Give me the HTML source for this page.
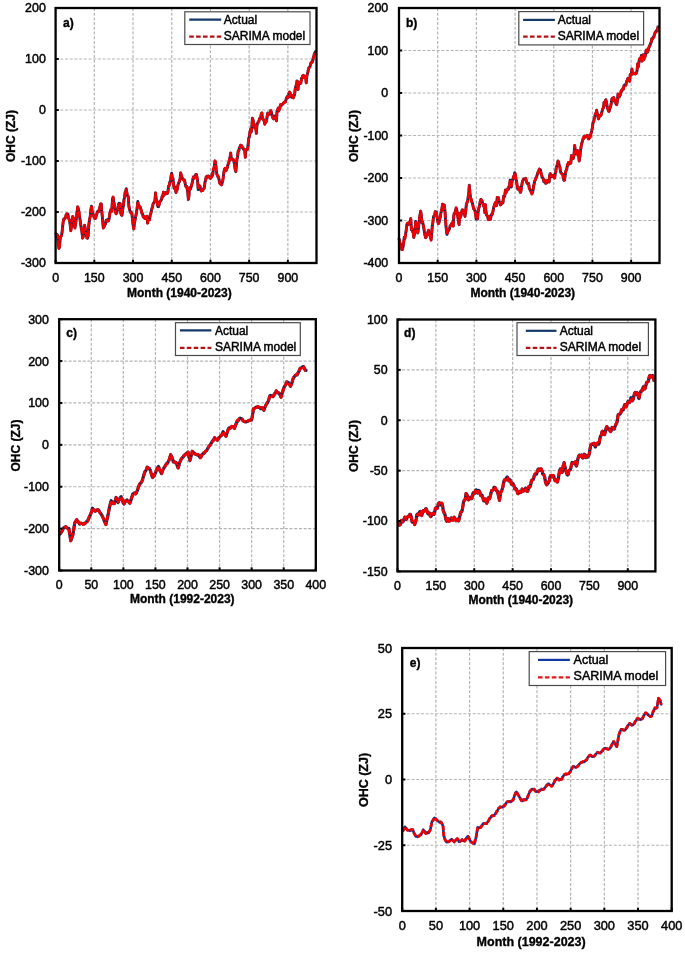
<!DOCTYPE html>
<html><head><meta charset="utf-8"><title>OHC SARIMA</title>
<style>
html,body{margin:0;padding:0;background:#fff;}
body{width:685px;height:954px;overflow:hidden;}
svg{display:block;filter:blur(0.4px);}
text{font-family:"Liberation Sans", sans-serif;fill:#000;}
.gr{stroke:#b4b4b4;stroke-width:1.2;stroke-dasharray:3 1.7;fill:none;}
.bl{stroke:#0d2660;stroke-width:3.0;fill:none;stroke-linejoin:round;stroke-linecap:round;}
.rd{stroke:#f00000;stroke-width:2.6;fill:none;stroke-dasharray:4 1.6;stroke-linejoin:round;}
.bla,.blb{stroke-width:2.9;}
.rda,.rdb{stroke-width:2.6;stroke-dasharray:7 1;}
.blc,.bld{stroke-width:3.2;}
.rdc,.rdd{stroke-width:2.8;stroke-dasharray:6 1.2;}
.ble{stroke-width:2.6;stroke:#0c3296;}
.rde{stroke-width:2.8;stroke-dasharray:4.2 1.8;}
.tk{stroke:#000;stroke-width:2;}
.fr{stroke:#000;stroke-width:2.3;fill:none;}
.lg{stroke:#4a4a4a;stroke-width:1.2;fill:#fff;}
.lbl{stroke:#14386a;stroke-width:2.2;}
.lrd{stroke:#b01416;stroke-width:2.2;stroke-dasharray:4.6 2.3;}
.lble{stroke:#1238a6;}
.lrde{stroke:#e01818;}
.yl,.xl,.lt{stroke:#000;stroke-width:0.45px;}
.yl{text-anchor:end;}
.xl{text-anchor:middle;}
.lt{font-size:12px;}
.pl{font-size:12px;font-weight:bold;}
.pln{}
.tt{font-weight:bold;}
.tt,.pl{stroke:#000;stroke-width:0.35px;}
.yt{text-anchor:middle;}
</style></head>
<body><svg width="685" height="954" viewBox="0 0 685 954">
<rect width="685" height="954" fill="#fff"/>
<g><line x1="55.6" y1="59" x2="316.5" y2="59" class="gr"/>
<line x1="55.6" y1="110" x2="316.5" y2="110" class="gr"/>
<line x1="55.6" y1="161" x2="316.5" y2="161" class="gr"/>
<line x1="55.6" y1="212" x2="316.5" y2="212" class="gr"/>
<line x1="94.31" y1="8" x2="94.31" y2="263" class="gr"/>
<line x1="133.02" y1="8" x2="133.02" y2="263" class="gr"/>
<line x1="171.73" y1="8" x2="171.73" y2="263" class="gr"/>
<line x1="210.44" y1="8" x2="210.44" y2="263" class="gr"/>
<line x1="249.15" y1="8" x2="249.15" y2="263" class="gr"/>
<line x1="287.86" y1="8" x2="287.86" y2="263" class="gr"/>
<path d="M56,233.81 L56.58,235 L57.16,234.51 L57.74,236.04 L58.32,243.62 L58.9,248.37 L59.5,246.9 L60.1,239.24 L60.7,236.67 L61.3,236.03 L61.9,233.71 L62.57,227.01 L63.23,221.67 L63.9,218.92 L64.55,219.06 L65.2,218.03 L65.85,215.87 L66.5,214.21 L67.15,213.85 L67.8,213.84 L68.4,217.49 L69,219.21 L69.6,220.77 L70.2,224.74 L70.8,230.59 L71.43,226.62 L72.07,220.54 L72.7,216.68 L73.28,219.32 L73.85,218.15 L74.42,226.78 L75,227.84 L75.54,224.02 L76.08,220.23 L76.62,215.77 L77.16,211.23 L77.7,206.85 L78.28,208.65 L78.86,211.43 L79.44,215.91 L80.02,219.39 L80.6,223.81 L81.27,228.56 L81.93,231.74 L82.6,237.97 L83.27,236.58 L83.93,230.45 L84.6,225.4 L85.18,228.32 L85.76,230.16 L86.34,234.36 L86.92,237.99 L87.5,238.23 L88.17,235.75 L88.83,224.98 L89.5,219.5 L90.17,216.9 L90.83,209.96 L91.5,206.2 L92.08,210.42 L92.66,213.57 L93.24,214.36 L93.82,216.44 L94.4,218.06 L95,216.5 L95.6,218.44 L96.2,215.6 L96.8,214.37 L97.4,211.85 L98.05,211.01 L98.7,211.57 L99.35,209.18 L100,206.49 L100.65,204.11 L101.3,203.94 L101.97,213.59 L102.63,219.92 L103.3,227.91 L103.88,226.53 L104.46,226.29 L105.04,224.3 L105.62,223.72 L106.2,220.29 L106.8,220.59 L107.4,219.74 L108,220.7 L108.6,220.73 L109.2,218.13 L109.85,213.19 L110.5,211.33 L111.15,208.86 L111.8,211.11 L112.45,199.23 L113.1,197.25 L113.7,201.35 L114.3,204.45 L114.9,208.06 L115.5,212 L116.1,213.68 L116.68,212.85 L117.26,210.09 L117.84,209.65 L118.42,204.46 L119,203.28 L119.6,204.94 L120.2,203.47 L120.8,213.39 L121.4,215.13 L122,215.31 L122.67,209.85 L123.33,205.87 L124,199.8 L124.58,197.08 L125.15,192.16 L125.72,190.54 L126.3,188.7 L126.95,193.29 L127.6,196.09 L128.25,196.77 L128.9,206.37 L129.5,209.29 L130.1,211.17 L130.7,212.52 L131.3,212.56 L131.9,213.64 L132.53,219.98 L133.17,225.71 L133.8,228.66 L134.47,223.16 L135.13,219.45 L135.8,215.71 L136.47,212.85 L137.13,207.57 L137.8,201.54 L138.38,205.11 L138.96,205.4 L139.54,207.36 L140.12,207.05 L140.7,208.44 L141.3,210.97 L141.9,213.26 L142.5,213.85 L143.1,216.54 L143.7,217.09 L144.26,216.36 L144.81,218.48 L145.37,218.53 L145.93,218.2 L146.49,217.36 L147.04,216.38 L147.6,223.08 L148.27,219.79 L148.93,219.95 L149.6,219.66 L150.27,214.58 L150.93,213.32 L151.6,209.6 L152.16,208.12 L152.71,206.01 L153.27,203.28 L153.83,202.57 L154.39,201.82 L154.94,200.55 L155.5,192.83 L156.1,198.78 L156.7,200.5 L157.3,204.13 L157.9,206.55 L158.5,206.74 L159.11,204.53 L159.72,201.8 L160.34,201.03 L160.95,200.65 L161.56,199.36 L162.18,195.89 L162.79,196.83 L163.4,192.25 L163.96,195.32 L164.51,193.21 L165.07,193.14 L165.63,192.58 L166.19,193.72 L166.74,193.38 L167.3,193.52 L167.93,191.48 L168.56,186.05 L169.19,185.75 L169.81,181.95 L170.44,181.69 L171.07,176.05 L171.7,173.24 L172.32,178.31 L172.95,178.47 L173.57,184.89 L174.2,188.3 L174.8,187.04 L175.4,189.05 L176,192.63 L176.6,190.14 L177.2,189.79 L177.78,185.8 L178.37,183.41 L178.95,182.45 L179.53,181.07 L180.12,178.68 L180.7,173.02 L181.31,175.31 L181.93,177.31 L182.54,178.62 L183.16,179.57 L183.77,179.95 L184.39,179.93 L185,182.39 L185.56,185.76 L186.11,186.78 L186.67,186.4 L187.23,189.52 L187.79,192.26 L188.34,199.57 L188.9,196.4 L189.47,188 L190.04,189.27 L190.61,188.6 L191.19,186.73 L191.76,184.28 L192.33,182.31 L192.9,179.03 L193.48,177.02 L194.06,178.22 L194.64,176.72 L195.22,176.58 L195.8,174.38 L196.4,174.45 L197,177.41 L197.6,181.01 L198.2,189.67 L198.8,185.13 L199.45,185.92 L200.1,186.57 L200.75,189.93 L201.4,190.88 L202.05,189.8 L202.7,190.33 L203.27,188.95 L203.84,188.95 L204.41,187.02 L204.99,182.07 L205.56,180.37 L206.13,177.01 L206.7,176.32 L207.31,176.27 L207.92,177.1 L208.54,175.94 L209.15,177.11 L209.76,176.95 L210.38,178.22 L210.99,177.51 L211.6,177.09 L212.17,173.96 L212.73,175.23 L213.3,169.29 L213.87,168.61 L214.43,165.05 L215,161.15 L215.62,163.14 L216.25,169.42 L216.88,174.41 L217.5,175.65 L218.07,177.35 L218.64,177.16 L219.21,180.62 L219.79,183.29 L220.36,183.26 L220.93,184.5 L221.5,184.95 L222.08,183.19 L222.66,181.05 L223.24,177.43 L223.82,172.71 L224.4,169.5 L225,168.51 L225.6,170.28 L226.2,170.21 L226.8,168.6 L227.4,167.32 L228.06,164.31 L228.72,163.02 L229.38,160.12 L230.04,157.01 L230.7,152.98 L231.35,159.11 L232,158.69 L232.65,158.89 L233.3,159.7 L233.93,161.36 L234.55,165.13 L235.18,169.38 L235.8,171.7 L236.4,165.03 L237,158.81 L237.6,156.25 L238.2,151.07 L238.8,150.74 L239.4,147.71 L240,146.89 L240.6,145.36 L241.2,145.11 L241.78,145.93 L242.36,147.97 L242.94,147.89 L243.52,149.36 L244.1,149.8 L244.7,150.2 L245.3,157.23 L245.9,149.91 L246.5,149.4 L247.1,149.65 L247.68,148.89 L248.26,143.25 L248.84,137.96 L249.42,136.37 L250,131.96 L250.6,129.38 L251.2,132.07 L251.8,127.58 L252.4,118.15 L253.05,120.33 L253.7,124.29 L254.35,127.42 L255,127.88 L255.65,125.23 L256.3,133.3 L256.95,125.27 L257.6,123.27 L258.25,122.01 L258.9,121.04 L259.5,118.68 L260.1,118.43 L260.7,117.62 L261.3,113.57 L261.9,113.1 L262.48,118.72 L263.06,119.04 L263.64,119.79 L264.22,121.19 L264.8,124.07 L265.4,122.27 L266,122.05 L266.6,120.88 L267.2,115.81 L267.8,112.92 L268.38,114.45 L268.96,114.47 L269.54,114.2 L270.12,112.76 L270.7,110.7 L271.3,112.01 L271.9,114.3 L272.5,117.21 L273.1,117.91 L273.7,118.91 L274.26,117.49 L274.81,116.07 L275.37,115.8 L275.93,115.31 L276.49,120.76 L277.04,110.84 L277.6,110.51 L278.17,108.19 L278.74,110.8 L279.31,109.55 L279.89,107.93 L280.46,104.87 L281.03,104.54 L281.6,105.38 L282.25,104.23 L282.9,104.08 L283.55,102.76 L284.2,102.44 L284.85,101.9 L285.5,101.94 L286.07,99.47 L286.64,97.7 L287.21,96.52 L287.79,96.72 L288.36,97.47 L288.93,93.38 L289.5,92.14 L290.15,92.9 L290.8,96.22 L291.45,97.17 L292.1,95.63 L292.75,95.69 L293.4,97.76 L294,95.76 L294.6,94.74 L295.2,89.07 L295.8,86.25 L296.4,85.27 L296.96,80.95 L297.51,86.48 L298.07,89.45 L298.63,82.31 L299.19,83.87 L299.74,82.75 L300.3,83.57 L300.9,83.13 L301.5,78.56 L302.1,78.18 L302.7,75.78 L303.3,75.26 L303.88,75.78 L304.46,77.43 L305.04,77.02 L305.62,76.98 L306.2,82.88 L306.8,76.16 L307.4,73.92 L308,71.35 L308.6,68.23 L309.2,67.78 L309.78,66.96 L310.36,65.16 L310.94,63 L311.52,62.83 L312.1,61.38 L312.67,61.46 L313.23,57.86 L313.8,56.11 L314.37,53.68 L314.93,52.6 L315.5,51.5" class="bl bla"/>
<path d="M56,233.32 L56.58,235.05 L57.16,234.65 L57.74,236.45 L58.32,243.21 L58.9,248.49 L59.5,246.78 L60.1,239.25 L60.7,236.32 L61.3,235.82 L61.9,233.73 L62.57,227.43 L63.23,221.28 L63.9,218.91 L64.55,219.37 L65.2,218.5 L65.85,215.56 L66.5,213.84 L67.15,214.3 L67.8,214.31 L68.4,217.48 L69,218.76 L69.6,221.19 L70.2,224.63 L70.8,231 L71.43,226.74 L72.07,220.87 L72.7,216.34 L73.28,219.61 L73.85,217.87 L74.42,226.69 L75,228.18 L75.54,224.35 L76.08,219.91 L76.62,215.49 L77.16,211.13 L77.7,206.87 L78.28,208.53 L78.86,211.06 L79.44,215.65 L80.02,219.61 L80.6,224.21 L81.27,228.1 L81.93,231.8 L82.6,238.22 L83.27,236.12 L83.93,230.79 L84.6,225.02 L85.18,228.42 L85.76,230.21 L86.34,234.49 L86.92,237.79 L87.5,238.15 L88.17,235.84 L88.83,224.91 L89.5,219.66 L90.17,216.85 L90.83,209.9 L91.5,205.72 L92.08,210.53 L92.66,213.56 L93.24,214.1 L93.82,216.7 L94.4,218.34 L95,216.46 L95.6,218.12 L96.2,215.57 L96.8,213.98 L97.4,211.48 L98.05,210.94 L98.7,211.16 L99.35,209.12 L100,206.51 L100.65,203.65 L101.3,204.07 L101.97,213.17 L102.63,220.15 L103.3,228.19 L103.88,226.54 L104.46,225.84 L105.04,224.3 L105.62,223.6 L106.2,220.74 L106.8,220.22 L107.4,220.1 L108,221.2 L108.6,220.96 L109.2,218.45 L109.85,212.89 L110.5,211.82 L111.15,208.85 L111.8,211.57 L112.45,199.64 L113.1,196.91 L113.7,201.64 L114.3,204.88 L114.9,207.63 L115.5,211.85 L116.1,213.93 L116.68,212.5 L117.26,210.49 L117.84,209.42 L118.42,204.78 L119,202.93 L119.6,204.94 L120.2,203.89 L120.8,213.1 L121.4,214.89 L122,215.31 L122.67,209.67 L123.33,205.41 L124,199.48 L124.58,196.74 L125.15,192.6 L125.72,190.72 L126.3,189.1 L126.95,192.96 L127.6,196.37 L128.25,196.39 L128.9,206.4 L129.5,209.43 L130.1,211.03 L130.7,212.89 L131.3,212.62 L131.9,213.72 L132.53,220.36 L133.17,225.31 L133.8,229.15 L134.47,223.29 L135.13,219.35 L135.8,216.01 L136.47,212.62 L137.13,208.06 L137.8,201.61 L138.38,204.97 L138.96,205.66 L139.54,207.3 L140.12,206.73 L140.7,208.68 L141.3,210.52 L141.9,213.58 L142.5,213.6 L143.1,216.68 L143.7,217.57 L144.26,216.45 L144.81,218.64 L145.37,218.34 L145.93,217.7 L146.49,216.89 L147.04,216.03 L147.6,223.2 L148.27,219.72 L148.93,219.96 L149.6,220.05 L150.27,214.21 L150.93,213.04 L151.6,209.76 L152.16,207.64 L152.71,205.51 L153.27,203.13 L153.83,202.17 L154.39,201.68 L154.94,200.28 L155.5,192.92 L156.1,198.87 L156.7,200.2 L157.3,204.25 L157.9,206.52 L158.5,206.37 L159.11,204.97 L159.72,201.54 L160.34,200.68 L160.95,200.24 L161.56,199.5 L162.18,196.26 L162.79,197.11 L163.4,192.15 L163.96,195.08 L164.51,192.72 L165.07,193.28 L165.63,192.64 L166.19,193.57 L166.74,193.53 L167.3,193.46 L167.93,191.92 L168.56,186.28 L169.19,185.5 L169.81,182.35 L170.44,181.24 L171.07,176.09 L171.7,173.15 L172.32,178.04 L172.95,178.03 L173.57,185.17 L174.2,187.81 L174.8,187.09 L175.4,189.49 L176,192.27 L176.6,189.84 L177.2,189.9 L177.78,185.81 L178.37,183.55 L178.95,182.76 L179.53,180.75 L180.12,178.49 L180.7,172.82 L181.31,174.86 L181.93,177.7 L182.54,178.91 L183.16,179.78 L183.77,179.46 L184.39,180.27 L185,182.63 L185.56,185.73 L186.11,187.02 L186.67,186.36 L187.23,189.24 L187.79,191.87 L188.34,199.3 L188.9,195.94 L189.47,187.84 L190.04,189.52 L190.61,188.79 L191.19,187.08 L191.76,184.49 L192.33,182.08 L192.9,179.09 L193.48,176.95 L194.06,178.51 L194.64,176.74 L195.22,176.34 L195.8,174.52 L196.4,174.91 L197,177.13 L197.6,181.39 L198.2,189.19 L198.8,184.89 L199.45,185.66 L200.1,186.81 L200.75,190.38 L201.4,191.13 L202.05,189.63 L202.7,190.71 L203.27,188.77 L203.84,188.69 L204.41,187.43 L204.99,182.2 L205.56,180.56 L206.13,177.17 L206.7,176.8 L207.31,176.24 L207.92,177.44 L208.54,176.14 L209.15,177.47 L209.76,176.89 L210.38,178.45 L210.99,177.58 L211.6,176.9 L212.17,173.67 L212.73,175.35 L213.3,168.86 L213.87,169.02 L214.43,164.69 L215,160.68 L215.62,162.75 L216.25,169.84 L216.88,174.25 L217.5,175.29 L218.07,176.88 L218.64,176.7 L219.21,180.82 L219.79,183.42 L220.36,183.46 L220.93,184.74 L221.5,184.51 L222.08,183.28 L222.66,180.91 L223.24,177.75 L223.82,173.03 L224.4,169.89 L225,168.07 L225.6,170.65 L226.2,170.62 L226.8,169.04 L227.4,166.93 L228.06,164.01 L228.72,162.63 L229.38,159.65 L230.04,157.35 L230.7,153.3 L231.35,159.24 L232,159.02 L232.65,159.03 L233.3,159.49 L233.93,160.96 L234.55,164.72 L235.18,169.64 L235.8,171.4 L236.4,164.85 L237,158.74 L237.6,155.77 L238.2,150.83 L238.8,150.52 L239.4,147.93 L240,146.76 L240.6,145.18 L241.2,145.57 L241.78,145.93 L242.36,148.32 L242.94,148.01 L243.52,148.89 L244.1,149.72 L244.7,150.14 L245.3,157.5 L245.9,149.76 L246.5,149.61 L247.1,149.68 L247.68,148.6 L248.26,143.62 L248.84,137.55 L249.42,136.69 L250,131.64 L250.6,128.89 L251.2,131.77 L251.8,127.84 L252.4,118.63 L253.05,119.83 L253.7,124.28 L254.35,127.41 L255,128.18 L255.65,124.92 L256.3,133.29 L256.95,125.12 L257.6,123.6 L258.25,121.77 L258.9,121.48 L259.5,118.46 L260.1,118.15 L260.7,117.82 L261.3,113.57 L261.9,112.71 L262.48,118.86 L263.06,118.62 L263.64,120.07 L264.22,121.39 L264.8,124.35 L265.4,122.4 L266,121.91 L266.6,120.78 L267.2,115.71 L267.8,113.31 L268.38,114.03 L268.96,114.86 L269.54,113.72 L270.12,112.47 L270.7,110.46 L271.3,112.42 L271.9,114.31 L272.5,117.09 L273.1,118.3 L273.7,118.65 L274.26,117.45 L274.81,116.1 L275.37,116.05 L275.93,115.56 L276.49,120.91 L277.04,110.68 L277.6,110.34 L278.17,107.84 L278.74,111.14 L279.31,109.71 L279.89,108.17 L280.46,104.54 L281.03,104.48 L281.6,105.65 L282.25,104.31 L282.9,103.7 L283.55,102.73 L284.2,102.82 L284.85,101.64 L285.5,101.63 L286.07,99.27 L286.64,97.9 L287.21,96.87 L287.79,96.38 L288.36,97.12 L288.93,93.13 L289.5,91.96 L290.15,92.92 L290.8,95.88 L291.45,96.99 L292.1,95.32 L292.75,96.17 L293.4,97.99 L294,95.36 L294.6,95.21 L295.2,88.67 L295.8,86.14 L296.4,85.75 L296.96,81.24 L297.51,86.71 L298.07,89.38 L298.63,82 L299.19,84.01 L299.74,82.35 L300.3,83.27 L300.9,83.01 L301.5,78.1 L302.1,78.07 L302.7,76.07 L303.3,75.45 L303.88,75.78 L304.46,77.56 L305.04,76.98 L305.62,76.62 L306.2,82.99 L306.8,76.06 L307.4,74.16 L308,71.76 L308.6,68.16 L309.2,67.86 L309.78,67.21 L310.36,65.08 L310.94,62.73 L311.52,63.06 L312.1,61.76 L312.67,61.74 L313.23,58.06 L313.8,56.46 L314.37,53.86 L314.93,52.74 L315.5,51.45" class="rd rda"/>
<line x1="55.6" y1="8" x2="58.8" y2="8" class="tk"/>
<text x="45.8" y="12.44" class="yl" style="font-size:12.4px">200</text>
<line x1="55.6" y1="59" x2="58.8" y2="59" class="tk"/>
<text x="45.8" y="63.44" class="yl" style="font-size:12.4px">100</text>
<line x1="55.6" y1="110" x2="58.8" y2="110" class="tk"/>
<text x="45.8" y="114.44" class="yl" style="font-size:12.4px">0</text>
<line x1="55.6" y1="161" x2="58.8" y2="161" class="tk"/>
<text x="45.8" y="165.44" class="yl" style="font-size:12.4px">-100</text>
<line x1="55.6" y1="212" x2="58.8" y2="212" class="tk"/>
<text x="45.8" y="216.44" class="yl" style="font-size:12.4px">-200</text>
<line x1="55.6" y1="263" x2="58.8" y2="263" class="tk"/>
<text x="45.8" y="267.44" class="yl" style="font-size:12.4px">-300</text>
<line x1="55.6" y1="263" x2="55.6" y2="259.8" class="tk"/>
<text x="55.6" y="282.3" class="xl" style="font-size:12.4px">0</text>
<line x1="94.31" y1="263" x2="94.31" y2="259.8" class="tk"/>
<text x="94.31" y="282.3" class="xl" style="font-size:12.4px">150</text>
<line x1="133.02" y1="263" x2="133.02" y2="259.8" class="tk"/>
<text x="133.02" y="282.3" class="xl" style="font-size:12.4px">300</text>
<line x1="171.73" y1="263" x2="171.73" y2="259.8" class="tk"/>
<text x="171.73" y="282.3" class="xl" style="font-size:12.4px">450</text>
<line x1="210.44" y1="263" x2="210.44" y2="259.8" class="tk"/>
<text x="210.44" y="282.3" class="xl" style="font-size:12.4px">600</text>
<line x1="249.15" y1="263" x2="249.15" y2="259.8" class="tk"/>
<text x="249.15" y="282.3" class="xl" style="font-size:12.4px">750</text>
<line x1="287.86" y1="263" x2="287.86" y2="259.8" class="tk"/>
<text x="287.86" y="282.3" class="xl" style="font-size:12.4px">900</text>
<rect x="55.6" y="8" width="260.9" height="255" class="fr"/>
<rect x="184.8" y="11.8" width="125.2" height="32.7" class="lg"/>
<line x1="189.2" y1="19.7" x2="221.2" y2="19.7" class="lbl lbla"/>
<line x1="189.2" y1="36.6" x2="221.2" y2="36.6" class="lrd lrda"/>
<text x="223.8" y="23.9" class="lt" style="font-size:12px">Actual</text>
<text x="223.8" y="39.9" class="lt" style="font-size:12px">SARIMA model</text>
<text x="63" y="26.6" class="pl">a)</text>
<text x="127" y="296.8" class="tt" style="font-size:12px">Month (1940-2023)</text>
<text transform="translate(15.1,136) rotate(-90)" class="tt yt" style="font-size:12px">OHC (ZJ)</text></g>
<g><line x1="399" y1="50.5" x2="659.5" y2="50.5" class="gr"/>
<line x1="399" y1="93" x2="659.5" y2="93" class="gr"/>
<line x1="399" y1="135.5" x2="659.5" y2="135.5" class="gr"/>
<line x1="399" y1="178" x2="659.5" y2="178" class="gr"/>
<line x1="399" y1="220.5" x2="659.5" y2="220.5" class="gr"/>
<line x1="437.69" y1="8" x2="437.69" y2="263" class="gr"/>
<line x1="476.38" y1="8" x2="476.38" y2="263" class="gr"/>
<line x1="515.06" y1="8" x2="515.06" y2="263" class="gr"/>
<line x1="553.75" y1="8" x2="553.75" y2="263" class="gr"/>
<line x1="592.44" y1="8" x2="592.44" y2="263" class="gr"/>
<line x1="631.13" y1="8" x2="631.13" y2="263" class="gr"/>
<path d="M399,238.65 L399.58,241.35 L400.16,244.08 L400.74,244.24 L401.32,246.62 L401.9,249.62 L402.5,249.57 L403.1,246.54 L403.7,242.45 L404.3,237.16 L404.9,238.43 L405.57,234.45 L406.23,230.03 L406.9,224.59 L407.46,223.26 L408.01,222.99 L408.57,224.5 L409.13,223.63 L409.69,222.46 L410.24,221.43 L410.8,218.56 L411.4,229.96 L412,228.51 L412.6,231.31 L413.2,232.86 L413.8,237.43 L414.43,234.23 L415.07,229.64 L415.7,221.43 L416.37,226.54 L417.03,229.97 L417.7,232.97 L418.3,229.92 L418.9,223.88 L419.5,218.23 L420.1,214.51 L420.7,211.18 L421.33,215.63 L421.97,222.79 L422.6,222.12 L423.2,224.72 L423.8,227.93 L424.4,232.06 L425,235.32 L425.6,237.75 L426.18,236.73 L426.76,234.57 L427.34,234.76 L427.92,231.74 L428.5,230.42 L429.15,232.45 L429.8,234.42 L430.45,237.17 L431.1,239.98 L431.7,233.57 L432.3,225.92 L432.9,222.11 L433.5,216.93 L434.08,215.76 L434.66,215.25 L435.24,211.71 L435.82,211.82 L436.4,212.06 L437.07,217.11 L437.73,221.17 L438.4,223.6 L439,222.57 L439.6,219.77 L440.2,217.5 L440.8,213.52 L441.4,210.95 L441.98,208.28 L442.56,204.11 L443.14,209.73 L443.72,208.18 L444.3,204.91 L444.95,210.9 L445.6,220.64 L446.25,229.01 L446.9,234.4 L447.45,232.82 L448,230.63 L448.55,230.52 L449.1,229.45 L449.65,228.25 L450.2,225.61 L450.8,225.37 L451.4,224.29 L452,223.1 L452.6,222.81 L453.2,226.05 L453.78,215.72 L454.36,213.11 L454.94,213.64 L455.52,210.84 L456.1,208.04 L456.7,209.59 L457.3,213.01 L457.9,217.36 L458.5,221.52 L459.1,224.67 L459.7,213.17 L460.3,217.4 L460.9,215.93 L461.5,213.52 L462.1,209.92 L462.68,209.85 L463.26,211 L463.84,211.2 L464.42,213.22 L465,216.27 L465.67,211.5 L466.33,204.57 L467,202.76 L467.57,201.54 L468.15,197.07 L468.73,193.46 L469.3,185.18 L469.95,193.07 L470.6,197.94 L471.25,199.57 L471.9,202.02 L472.5,203.27 L473.1,206.52 L473.7,208.81 L474.3,209.19 L474.9,210.16 L475.53,213.66 L476.17,218.99 L476.8,219.06 L477.47,219.12 L478.13,211.99 L478.8,208.25 L479.47,206.14 L480.13,201.98 L480.8,199.52 L481.38,199.83 L481.96,200.9 L482.54,202.51 L483.12,204.16 L483.7,206.21 L484.27,206.9 L484.84,212.67 L485.41,204.64 L485.99,211.54 L486.56,215.13 L487.13,215.65 L487.7,216.8 L488.28,219.52 L488.86,216.64 L489.44,219.38 L490.02,218.36 L490.6,219.11 L491.17,214.77 L491.74,214.97 L492.31,214.01 L492.89,211.67 L493.46,208.68 L494.03,206.48 L494.6,205.09 L495.25,202.77 L495.9,203.58 L496.55,205.68 L497.2,197.56 L497.85,198.32 L498.5,197.77 L499.17,201.95 L499.83,203.07 L500.5,204.96 L501.11,203.97 L501.73,203.76 L502.34,202.07 L502.95,202.93 L503.56,196.13 L504.17,196.73 L504.79,195.66 L505.4,190.06 L506,192.57 L506.6,190.15 L507.2,190.53 L507.8,188.69 L508.4,189.15 L508.98,186.51 L509.56,185.49 L510.14,180.25 L510.72,186.86 L511.3,187.07 L511.87,182.24 L512.43,179.83 L513,178.75 L513.57,176.49 L514.13,176.28 L514.7,172.77 L515.33,174.54 L515.95,179.28 L516.58,181.13 L517.2,186.46 L517.8,189.18 L518.4,187.43 L519,189.65 L519.6,188.12 L520.2,192.4 L520.78,191.81 L521.37,187.55 L521.95,184.06 L522.53,181.45 L523.12,179.9 L523.7,178.94 L524.31,179.39 L524.93,179.23 L525.54,178.28 L526.16,180.1 L526.77,182.46 L527.39,183.74 L528,183.87 L528.65,183.43 L529.3,188.67 L529.95,189.36 L530.6,190.64 L531.25,192.25 L531.9,193.66 L532.47,192.34 L533.04,190.43 L533.61,186.43 L534.19,183.64 L534.76,180.98 L535.33,179.98 L535.9,177.78 L536.48,177.25 L537.07,175.38 L537.65,173.05 L538.23,171.99 L538.82,170.83 L539.4,169.1 L539.97,170.05 L540.53,170.06 L541.1,173.63 L541.67,175.34 L542.23,177.22 L542.8,178.1 L543.36,179.08 L543.91,181.82 L544.47,180.08 L545.03,181.03 L545.59,183.36 L546.14,181.82 L546.7,182.99 L547.3,180.51 L547.9,180.65 L548.5,180.01 L549.1,182.07 L549.7,174.95 L550.31,173.72 L550.93,175.73 L551.54,175.46 L552.15,176.78 L552.76,175.65 L553.38,175.45 L553.99,175.45 L554.6,177.86 L555.17,174.15 L555.73,171.73 L556.3,166.96 L556.87,165.97 L557.43,164.1 L558,161.01 L558.62,162.28 L559.25,165.43 L559.88,167.19 L560.5,171.6 L561.07,172.87 L561.64,173.31 L562.21,174.39 L562.79,174.32 L563.36,178.2 L563.93,180.28 L564.5,180.05 L565.08,175.96 L565.66,171.77 L566.24,170.05 L566.82,168.88 L567.4,164.79 L567.97,165.21 L568.54,162.41 L569.11,163.42 L569.69,163.43 L570.26,162.6 L570.83,163.1 L571.4,155.68 L572.05,158.72 L572.7,157.91 L573.35,158.15 L574,155.19 L574.65,145.63 L575.3,150.52 L575.86,151.76 L576.41,153.57 L576.97,153.68 L577.53,150.59 L578.09,155.89 L578.64,155.09 L579.2,161.05 L579.8,157.21 L580.4,151.88 L581,147.38 L581.6,143.74 L582.2,141.96 L582.8,139.88 L583.4,137.69 L584,138 L584.6,135.9 L585.2,136.9 L585.81,136.61 L586.43,136.39 L587.04,135.6 L587.65,135.56 L588.26,138.76 L588.88,138.88 L589.49,137.43 L590.1,137.24 L590.68,134.94 L591.26,132.53 L591.84,130.3 L592.42,127.46 L593,122.72 L593.6,121.65 L594.2,119.05 L594.8,116.62 L595.4,113.67 L596,113.99 L596.6,110.21 L597.2,113.42 L597.8,115.26 L598.4,118.87 L599,117.43 L599.65,115.51 L600.3,115.25 L600.95,115.24 L601.6,113.24 L602.25,110.44 L602.9,108.43 L603.48,107.81 L604.06,102.17 L604.64,105.25 L605.22,101.1 L605.8,99.7 L606.4,101.62 L607,105.5 L607.6,107.91 L608.2,110.13 L608.8,111.22 L609.36,110.64 L609.91,108.6 L610.47,106.78 L611.03,104.81 L611.59,100.46 L612.14,98.51 L612.7,98.35 L613.27,98.73 L613.84,97.49 L614.41,101.25 L614.99,100.37 L615.56,101.69 L616.13,104.12 L616.7,104.63 L617.35,101.14 L618,94.35 L618.65,96.69 L619.3,96.82 L619.95,95.85 L620.6,93.97 L621.17,90.7 L621.74,91.13 L622.31,89.95 L622.89,88.59 L623.46,88.84 L624.03,85.51 L624.6,84.99 L625.25,84.83 L625.9,84.94 L626.55,81.68 L627.2,80.34 L627.85,78.51 L628.5,79.75 L629.07,78.9 L629.64,81.24 L630.21,74.75 L630.79,74.89 L631.36,74.49 L631.93,68.98 L632.5,74.15 L633.15,73.38 L633.8,73.73 L634.45,73.32 L635.1,73.96 L635.75,73.71 L636.4,72.81 L637,71.26 L637.6,63.96 L638.2,67.02 L638.8,63.23 L639.4,58.85 L640.05,60.28 L640.7,59.29 L641.35,55.53 L642,61.14 L642.65,59.57 L643.3,54.82 L643.88,59.68 L644.46,57.33 L645.04,56.8 L645.62,53.89 L646.2,50.24 L646.8,49.99 L647.4,52.06 L648,51.29 L648.6,48.16 L649.2,46.85 L649.87,45.47 L650.53,43.93 L651.2,42.12 L651.85,38.82 L652.5,38.89 L653.15,37.18 L653.8,36.89 L654.45,34.45 L655.1,32.67 L655.67,32.23 L656.23,30.95 L656.8,30.37 L657.37,30.75 L657.93,26.93 L658.5,26.9" class="bl blb"/>
<path d="M399,238.87 L399.58,241.23 L400.16,244.53 L400.74,243.95 L401.32,247.07 L401.9,249.63 L402.5,249.29 L403.1,246.49 L403.7,242.08 L404.3,237.37 L404.9,238.19 L405.57,234.85 L406.23,230.12 L406.9,224.46 L407.46,223.01 L408.01,223.09 L408.57,224.21 L409.13,224 L409.69,222.09 L410.24,221.44 L410.8,218.6 L411.4,229.73 L412,228.78 L412.6,231.2 L413.2,233.02 L413.8,237.5 L414.43,234.04 L415.07,229.53 L415.7,221.01 L416.37,226.22 L417.03,230.32 L417.7,232.79 L418.3,230.08 L418.9,223.49 L419.5,218.29 L420.1,214.37 L420.7,211.18 L421.33,215.43 L421.97,222.35 L422.6,221.93 L423.2,224.45 L423.8,227.55 L424.4,232.28 L425,235.1 L425.6,237.65 L426.18,237.14 L426.76,234.84 L427.34,235.14 L427.92,232.1 L428.5,230.05 L429.15,232.23 L429.8,233.95 L430.45,237.35 L431.1,240.14 L431.7,233.42 L432.3,225.83 L432.9,222.26 L433.5,217.13 L434.08,215.51 L434.66,215.6 L435.24,211.56 L435.82,211.95 L436.4,211.74 L437.07,216.72 L437.73,221.59 L438.4,223.84 L439,222.79 L439.6,219.31 L440.2,217.04 L440.8,213.18 L441.4,210.65 L441.98,208.08 L442.56,203.99 L443.14,209.27 L443.72,207.99 L444.3,205.05 L444.95,210.58 L445.6,220.98 L446.25,229.08 L446.9,234.62 L447.45,232.57 L448,230.57 L448.55,230.7 L449.1,229.3 L449.65,227.75 L450.2,225.95 L450.8,225.64 L451.4,224.08 L452,222.65 L452.6,223.16 L453.2,226.16 L453.78,215.27 L454.36,212.86 L454.94,213.26 L455.52,211.13 L456.1,207.75 L456.7,210 L457.3,213.26 L457.9,216.94 L458.5,221.71 L459.1,224.56 L459.7,213.42 L460.3,217.73 L460.9,215.71 L461.5,213.11 L462.1,210.37 L462.68,209.77 L463.26,211.43 L463.84,211.39 L464.42,213.46 L465,216.6 L465.67,211.63 L466.33,204.52 L467,202.31 L467.57,201.74 L468.15,197 L468.73,193.47 L469.3,185.61 L469.95,192.7 L470.6,198.2 L471.25,199.11 L471.9,202.22 L472.5,203.57 L473.1,206.29 L473.7,208.86 L474.3,209.66 L474.9,210.3 L475.53,213.7 L476.17,218.74 L476.8,218.62 L477.47,218.98 L478.13,211.9 L478.8,207.96 L479.47,205.95 L480.13,201.62 L480.8,199.72 L481.38,200 L481.96,200.63 L482.54,202.25 L483.12,204.18 L483.7,206.16 L484.27,207.33 L484.84,212.52 L485.41,204.44 L485.99,211.92 L486.56,214.77 L487.13,215.71 L487.7,216.63 L488.28,219.84 L488.86,216.69 L489.44,219.64 L490.02,218.03 L490.6,219.27 L491.17,214.87 L491.74,214.93 L492.31,214.28 L492.89,212.01 L493.46,208.3 L494.03,206.27 L494.6,204.95 L495.25,202.48 L495.9,203.14 L496.55,205.46 L497.2,197.26 L497.85,198.52 L498.5,197.72 L499.17,201.57 L499.83,202.9 L500.5,204.93 L501.11,203.84 L501.73,203.43 L502.34,201.64 L502.95,202.44 L503.56,196.62 L504.17,196.98 L504.79,195.24 L505.4,190.27 L506,193.05 L506.6,190.22 L507.2,190.14 L507.8,188.68 L508.4,189.08 L508.98,186.2 L509.56,185.53 L510.14,179.75 L510.72,187.28 L511.3,187.22 L511.87,182.37 L512.43,180.27 L513,178.9 L513.57,176.24 L514.13,176.03 L514.7,172.41 L515.33,174.07 L515.95,179.55 L516.58,181.47 L517.2,186.26 L517.8,188.86 L518.4,187.57 L519,190 L519.6,188.55 L520.2,192.06 L520.78,192.1 L521.37,187.88 L521.95,184.31 L522.53,181.28 L523.12,179.58 L523.7,179.26 L524.31,179.21 L524.93,179.1 L525.54,178.34 L526.16,179.97 L526.77,182.8 L527.39,183.48 L528,183.41 L528.65,183.49 L529.3,188.8 L529.95,189.68 L530.6,190.85 L531.25,192.66 L531.9,194.11 L532.47,192.33 L533.04,190.43 L533.61,186.09 L534.19,183.44 L534.76,181.06 L535.33,179.56 L535.9,177.97 L536.48,176.92 L537.07,175.33 L537.65,173.52 L538.23,171.58 L538.82,170.37 L539.4,169.04 L539.97,169.74 L540.53,170.28 L541.1,173.14 L541.67,175.68 L542.23,177.58 L542.8,178.39 L543.36,179 L543.91,181.6 L544.47,180.25 L545.03,181.04 L545.59,183.28 L546.14,181.66 L546.7,182.93 L547.3,180.68 L547.9,180.97 L548.5,180.41 L549.1,181.73 L549.7,174.74 L550.31,173.66 L550.93,175.79 L551.54,175.31 L552.15,176.48 L552.76,175.23 L553.38,175.27 L553.99,175.41 L554.6,178.33 L555.17,174.56 L555.73,172.1 L556.3,167.43 L556.87,166.43 L557.43,164.22 L558,161.32 L558.62,161.84 L559.25,165.6 L559.88,167.3 L560.5,171.4 L561.07,172.94 L561.64,173.76 L562.21,174.37 L562.79,174.47 L563.36,178 L563.93,180.13 L564.5,180.44 L565.08,175.48 L565.66,171.46 L566.24,170.23 L566.82,168.83 L567.4,164.38 L567.97,165.37 L568.54,162.29 L569.11,163.5 L569.69,163.35 L570.26,162.63 L570.83,163.16 L571.4,155.57 L572.05,158.33 L572.7,157.59 L573.35,158.54 L574,155.23 L574.65,145.25 L575.3,150.88 L575.86,151.51 L576.41,153.17 L576.97,153.71 L577.53,150.34 L578.09,155.88 L578.64,155.15 L579.2,160.78 L579.8,157.29 L580.4,151.49 L581,147.39 L581.6,143.83 L582.2,141.54 L582.8,139.78 L583.4,137.26 L584,137.94 L584.6,136.27 L585.2,136.95 L585.81,136.83 L586.43,136.65 L587.04,135.21 L587.65,136.05 L588.26,138.98 L588.88,138.49 L589.49,137.76 L590.1,137.13 L590.68,134.61 L591.26,132.99 L591.84,130.37 L592.42,127.74 L593,122.36 L593.6,121.93 L594.2,118.61 L594.8,116.36 L595.4,113.54 L596,113.5 L596.6,110.31 L597.2,113.13 L597.8,115.06 L598.4,119.08 L599,117.36 L599.65,115.9 L600.3,115.37 L600.95,115.61 L601.6,113.3 L602.25,110.85 L602.9,108.8 L603.48,107.48 L604.06,102.41 L604.64,105.09 L605.22,101.37 L605.8,99.88 L606.4,101.95 L607,105.12 L607.6,107.78 L608.2,110.37 L608.8,111.67 L609.36,110.86 L609.91,108.15 L610.47,106.89 L611.03,104.41 L611.59,100.51 L612.14,98.81 L612.7,97.96 L613.27,99.15 L613.84,97.66 L614.41,101.01 L614.99,100.07 L615.56,101.63 L616.13,104.45 L616.7,104.71 L617.35,100.76 L618,93.87 L618.65,96.3 L619.3,97.12 L619.95,95.54 L620.6,94.03 L621.17,90.49 L621.74,91.31 L622.31,89.83 L622.89,88.24 L623.46,89.22 L624.03,85.55 L624.6,85.18 L625.25,85.13 L625.9,85.39 L626.55,81.19 L627.2,80.18 L627.85,78.16 L628.5,79.75 L629.07,79.28 L629.64,81.54 L630.21,74.29 L630.79,74.57 L631.36,74.81 L631.93,69.16 L632.5,74.05 L633.15,73.36 L633.8,73.39 L634.45,73.67 L635.1,73.85 L635.75,74.08 L636.4,72.92 L637,70.83 L637.6,63.79 L638.2,66.74 L638.8,63.62 L639.4,58.94 L640.05,59.82 L640.7,58.96 L641.35,55.39 L642,61.1 L642.65,59.65 L643.3,54.71 L643.88,59.53 L644.46,56.83 L645.04,56.88 L645.62,53.73 L646.2,49.76 L646.8,49.95 L647.4,52.54 L648,50.83 L648.6,47.8 L649.2,47.02 L649.87,45.25 L650.53,43.7 L651.2,42.12 L651.85,38.58 L652.5,38.96 L653.15,37.21 L653.8,37.35 L654.45,34.94 L655.1,32.2 L655.67,32.3 L656.23,31.22 L656.8,30.74 L657.37,31.02 L657.93,27.06 L658.5,27.03" class="rd rdb"/>
<line x1="399" y1="8" x2="402.2" y2="8" class="tk"/>
<text x="388.2" y="12.44" class="yl" style="font-size:12.4px">200</text>
<line x1="399" y1="50.5" x2="402.2" y2="50.5" class="tk"/>
<text x="388.2" y="54.94" class="yl" style="font-size:12.4px">100</text>
<line x1="399" y1="93" x2="402.2" y2="93" class="tk"/>
<text x="388.2" y="97.44" class="yl" style="font-size:12.4px">0</text>
<line x1="399" y1="135.5" x2="402.2" y2="135.5" class="tk"/>
<text x="388.2" y="139.94" class="yl" style="font-size:12.4px">-100</text>
<line x1="399" y1="178" x2="402.2" y2="178" class="tk"/>
<text x="388.2" y="182.44" class="yl" style="font-size:12.4px">-200</text>
<line x1="399" y1="220.5" x2="402.2" y2="220.5" class="tk"/>
<text x="388.2" y="224.94" class="yl" style="font-size:12.4px">-300</text>
<line x1="399" y1="263" x2="402.2" y2="263" class="tk"/>
<text x="388.2" y="267.44" class="yl" style="font-size:12.4px">-400</text>
<line x1="399" y1="263" x2="399" y2="259.8" class="tk"/>
<text x="399" y="282.3" class="xl" style="font-size:12.4px">0</text>
<line x1="437.69" y1="263" x2="437.69" y2="259.8" class="tk"/>
<text x="437.69" y="282.3" class="xl" style="font-size:12.4px">150</text>
<line x1="476.38" y1="263" x2="476.38" y2="259.8" class="tk"/>
<text x="476.38" y="282.3" class="xl" style="font-size:12.4px">300</text>
<line x1="515.06" y1="263" x2="515.06" y2="259.8" class="tk"/>
<text x="515.06" y="282.3" class="xl" style="font-size:12.4px">450</text>
<line x1="553.75" y1="263" x2="553.75" y2="259.8" class="tk"/>
<text x="553.75" y="282.3" class="xl" style="font-size:12.4px">600</text>
<line x1="592.44" y1="263" x2="592.44" y2="259.8" class="tk"/>
<text x="592.44" y="282.3" class="xl" style="font-size:12.4px">750</text>
<line x1="631.13" y1="263" x2="631.13" y2="259.8" class="tk"/>
<text x="631.13" y="282.3" class="xl" style="font-size:12.4px">900</text>
<rect x="399" y="8" width="260.5" height="255" class="fr"/>
<rect x="518.8" y="11.6" width="124.8" height="33.3" class="lg"/>
<line x1="523.1" y1="19.9" x2="554.9" y2="19.9" class="lbl lblb"/>
<line x1="523.1" y1="36.7" x2="554.9" y2="36.7" class="lrd lrdb"/>
<text x="557.7" y="23.7" class="lt" style="font-size:12px">Actual</text>
<text x="557.7" y="39.7" class="lt" style="font-size:12px">SARIMA model</text>
<text x="406" y="26.6" class="pl">b)</text>
<text x="470.4" y="296.8" class="tt" style="font-size:12px">Month (1940-2023)</text>
<text transform="translate(358.2,136) rotate(-90)" class="tt yt" style="font-size:12px">OHC (ZJ)</text></g>
<g><line x1="59.2" y1="361.08" x2="315.8" y2="361.08" class="gr"/>
<line x1="59.2" y1="402.97" x2="315.8" y2="402.97" class="gr"/>
<line x1="59.2" y1="444.85" x2="315.8" y2="444.85" class="gr"/>
<line x1="59.2" y1="486.73" x2="315.8" y2="486.73" class="gr"/>
<line x1="59.2" y1="528.62" x2="315.8" y2="528.62" class="gr"/>
<line x1="91.28" y1="319.2" x2="91.28" y2="570.5" class="gr"/>
<line x1="123.35" y1="319.2" x2="123.35" y2="570.5" class="gr"/>
<line x1="155.43" y1="319.2" x2="155.43" y2="570.5" class="gr"/>
<line x1="187.5" y1="319.2" x2="187.5" y2="570.5" class="gr"/>
<line x1="219.58" y1="319.2" x2="219.58" y2="570.5" class="gr"/>
<line x1="251.65" y1="319.2" x2="251.65" y2="570.5" class="gr"/>
<line x1="283.73" y1="319.2" x2="283.73" y2="570.5" class="gr"/>
<path d="M60,534.12 L61,532.81 L61.63,531.92 L62.27,530.79 L62.9,529.31 L63.65,527.87 L64.4,527.42 L65.15,527.02 L65.9,526.84 L66.62,527.62 L67.35,528.04 L68.08,528.59 L68.8,528.47 L69.47,532.45 L70.13,536.69 L70.8,540.63 L71.47,539.01 L72.13,536.73 L72.8,535.1 L73.47,530.81 L74.13,526.82 L74.8,522.94 L75.43,521.89 L76.07,520.64 L76.7,519.87 L77.45,520.76 L78.2,521.77 L78.95,522.93 L79.7,524.07 L80.35,523.51 L81,523.28 L81.65,523.54 L82.3,523.69 L82.95,524.07 L83.6,523.72 L84.27,523.98 L84.93,523.12 L85.6,522.99 L86.27,522.08 L86.93,521.18 L87.6,521.05 L88.23,519.52 L88.87,518.27 L89.5,516.38 L90.25,515.2 L91,513.18 L91.75,511.4 L92.5,508.2 L93.22,509.14 L93.95,510 L94.68,510.19 L95.4,511.21 L96.15,510.27 L96.9,509.99 L97.65,509.82 L98.4,509.8 L99.15,511.15 L99.9,512.6 L100.65,513.37 L101.4,514.45 L102.17,515.98 L102.93,517.46 L103.7,519.21 L104.43,521.15 L105.17,523.03 L105.9,524.38 L106.7,520.71 L107.5,517.55 L108.3,513.43 L109.03,509.61 L109.75,506.11 L110.47,503.09 L111.2,500.7 L111.95,501.66 L112.7,502.41 L113.45,503.57 L114.2,503.7 L114.83,501.88 L115.47,500 L116.1,497.46 L116.77,498.92 L117.43,500.86 L118.1,502.53 L118.85,500.32 L119.6,499.05 L120.35,497.46 L121.1,496.64 L121.82,498.84 L122.55,501.03 L123.28,502.77 L124,503.86 L124.75,502.55 L125.5,500.89 L126.25,500.69 L127,499.91 L127.72,501.07 L128.45,501.28 L129.18,502.56 L129.9,503.17 L130.65,500.99 L131.4,498.55 L132.15,496.16 L132.9,493.78 L133.62,493.69 L134.35,492.96 L135.08,493.73 L135.8,493.83 L136.55,492.39 L137.3,490.65 L138.05,488.43 L138.8,485.9 L139.55,484.71 L140.3,483.31 L141.05,482.68 L141.8,481.73 L142.53,479.43 L143.25,477.11 L143.97,474.84 L144.7,472.04 L145.5,471.18 L146.3,469.63 L147.1,467.11 L147.72,467.22 L148.35,467.75 L148.97,468.64 L149.6,468.85 L150.35,470.61 L151.1,473.13 L151.85,475.45 L152.6,477.51 L153.35,476.52 L154.1,475.94 L154.85,473.93 L155.6,472.89 L156.32,470.37 L157.05,468.67 L157.78,467.52 L158.5,466.56 L159.25,468.86 L160,470.73 L160.75,471.92 L161.5,473.58 L162.22,471.62 L162.95,469.78 L163.68,468.2 L164.4,467.32 L165.15,466.05 L165.9,464.43 L166.65,463.54 L167.4,463.35 L168.06,461.85 L168.72,461.05 L169.38,458.94 L170.04,457.07 L170.7,454.74 L171.35,456.37 L172,457.58 L172.65,459.26 L173.3,461.84 L174.05,461.59 L174.8,462.56 L175.55,462.32 L176.3,462.71 L176.93,464.63 L177.57,466.85 L178.2,467.91 L178.95,465.4 L179.7,462.64 L180.45,460.81 L181.2,459.02 L181.92,458.2 L182.65,457.33 L183.38,456.6 L184.1,455.5 L184.77,455.21 L185.43,454.36 L186.1,453.53 L186.77,453.23 L187.43,452.63 L188.1,452.18 L188.7,455.35 L189.3,457.55 L189.9,460.74 L190.67,457.61 L191.43,455.04 L192.2,451.47 L192.88,451.68 L193.56,452.58 L194.24,453.14 L194.92,453.41 L195.6,454.47 L196.3,454.37 L197,454.77 L197.7,454.39 L198.4,454.92 L199.03,456.08 L199.67,456.88 L200.3,457.61 L201.06,456.64 L201.82,454.82 L202.58,454.27 L203.34,453.16 L204.1,453.25 L204.82,452.49 L205.55,451.22 L206.28,450.89 L207,449.8 L207.76,448.45 L208.52,447.08 L209.28,445.84 L210.04,445.33 L210.8,443.71 L211.56,442.91 L212.32,441.16 L213.08,440.65 L213.84,439.07 L214.6,437.73 L215.3,438.97 L216,438.99 L216.7,439.48 L217.4,440.25 L218.12,438.71 L218.85,437.83 L219.58,437.31 L220.3,436.22 L221,435.63 L221.7,435.18 L222.4,433.88 L223.1,431.76 L223.82,433.26 L224.55,434 L225.28,435.18 L226,436.22 L226.7,433.59 L227.4,432.16 L228.1,429.65 L228.8,428.16 L229.53,427.83 L230.25,428.03 L230.97,427.26 L231.7,426.69 L232.4,426.51 L233.1,427.05 L233.8,427.03 L234.5,428.3 L235.2,426.17 L235.9,424.13 L236.6,422.6 L237.3,420.79 L238.03,420.85 L238.75,419.71 L239.47,418.62 L240.2,418.15 L240.9,418.39 L241.6,418.89 L242.3,419.52 L243,420.77 L243.72,421.3 L244.45,421.57 L245.18,421.71 L245.9,421.85 L246.6,421.72 L247.3,421.55 L248,421.05 L248.7,420.59 L249.42,420.38 L250.15,420 L250.88,419.9 L251.6,420.02 L252.23,416.58 L252.87,413.03 L253.5,408.87 L254.2,408.64 L254.9,408.02 L255.6,407.51 L256.3,407.27 L257.02,407.25 L257.75,406.73 L258.48,407.03 L259.2,407.52 L259.9,407.76 L260.6,408.65 L261.3,407.7 L262,407.66 L262.63,408.83 L263.27,409.14 L263.9,410.39 L264.62,408.01 L265.35,406.12 L266.07,404.67 L266.8,403.38 L267.44,402.83 L268.08,401.47 L268.72,399.96 L269.36,397.35 L270,395.68 L270.75,395.4 L271.5,395.73 L272.25,396.04 L273,396.66 L273.66,395.95 L274.32,394.14 L274.98,393.72 L275.64,392.64 L276.3,390.91 L277,391.9 L277.7,392.82 L278.4,392.65 L279.1,393.44 L279.73,394.44 L280.37,395.35 L281,397.13 L281.7,394.57 L282.4,392.51 L283.1,390.31 L283.8,387.82 L284.52,386.51 L285.25,385.36 L285.98,383.67 L286.7,381.79 L287.46,382.22 L288.22,382.48 L288.98,383.96 L289.74,384.85 L290.5,386.32 L291.2,384.73 L291.9,382.92 L292.6,380.56 L293.3,378.06 L294.06,377.37 L294.82,375.89 L295.58,375.08 L296.34,374.72 L297.1,374.96 L297.83,373.3 L298.55,371.94 L299.27,370.85 L300,368.54 L300.7,368.23 L301.4,367.72 L302.1,367.13 L302.8,366.69 L303.44,366.52 L304.08,367.61 L304.72,369.04 L305.36,370.22 L306,370.4" class="bl blc"/>
<path d="M60,533.74 L61,532.46 L61.63,531.67 L62.27,530.4 L62.9,529.17 L63.65,528.18 L64.4,527.45 L65.15,526.97 L65.9,526.42 L66.62,527.52 L67.35,528.54 L68.08,528.79 L68.8,528.42 L69.47,532.42 L70.13,536.99 L70.8,540.89 L71.47,538.66 L72.13,536.91 L72.8,534.97 L73.47,530.83 L74.13,526.55 L74.8,522.81 L75.43,521.73 L76.07,520.52 L76.7,519.39 L77.45,520.46 L78.2,521.84 L78.95,522.49 L79.7,523.75 L80.35,523.72 L81,523.05 L81.65,523.37 L82.3,523.43 L82.95,524.4 L83.6,523.31 L84.27,524.11 L84.93,523.48 L85.6,522.69 L86.27,522.01 L86.93,521.47 L87.6,521.16 L88.23,519.39 L88.87,517.82 L89.5,516.32 L90.25,515.06 L91,513.39 L91.75,511.2 L92.5,508.11 L93.22,509.29 L93.95,510.31 L94.68,510.04 L95.4,511.09 L96.15,510.35 L96.9,510.42 L97.65,509.51 L98.4,510.27 L99.15,511.36 L99.9,512.47 L100.65,513.53 L101.4,514.28 L102.17,515.55 L102.93,517.72 L103.7,519.09 L104.43,521.17 L105.17,523.02 L105.9,524.78 L106.7,520.97 L107.5,517.08 L108.3,513.52 L109.03,509.57 L109.75,506.07 L110.47,503.43 L111.2,500.61 L111.95,501.63 L112.7,502.8 L113.45,503.51 L114.2,503.69 L114.83,501.89 L115.47,500.32 L116.1,497.63 L116.77,499.16 L117.43,500.76 L118.1,502.07 L118.85,500.5 L119.6,499.1 L120.35,497.72 L121.1,496.91 L121.82,498.46 L122.55,500.75 L123.28,502.34 L124,504.17 L124.75,502.15 L125.5,500.48 L126.25,500.95 L127,499.97 L127.72,500.63 L128.45,501.46 L129.18,502.77 L129.9,503.16 L130.65,500.54 L131.4,498.74 L132.15,496.08 L132.9,493.86 L133.62,494.19 L134.35,493.28 L135.08,494.1 L135.8,493.48 L136.55,492.22 L137.3,490.67 L138.05,487.93 L138.8,486.39 L139.55,484.49 L140.3,483.08 L141.05,482.49 L141.8,481.48 L142.53,479.79 L143.25,477.17 L143.97,474.85 L144.7,471.96 L145.5,470.73 L146.3,469.43 L147.1,467.48 L147.72,467.52 L148.35,468.11 L148.97,468.4 L149.6,468.55 L150.35,470.16 L151.1,473.16 L151.85,475.32 L152.6,477.47 L153.35,476.51 L154.1,476.02 L154.85,473.8 L155.6,473.19 L156.32,470.07 L157.05,469.09 L157.78,467.58 L158.5,466.11 L159.25,468.67 L160,470.76 L160.75,471.83 L161.5,473.64 L162.22,471.45 L162.95,469.55 L163.68,468.5 L164.4,467.11 L165.15,466.26 L165.9,464.73 L166.65,463.63 L167.4,463.3 L168.06,462.28 L168.72,461 L169.38,459.32 L170.04,456.63 L170.7,454.67 L171.35,456.51 L172,457.12 L172.65,459.63 L173.3,461.42 L174.05,461.68 L174.8,462.24 L175.55,462.74 L176.3,462.78 L176.93,464.93 L177.57,466.85 L178.2,468.08 L178.95,465.58 L179.7,462.43 L180.45,460.53 L181.2,459.36 L181.92,457.84 L182.65,457.75 L183.38,456.31 L184.1,455.1 L184.77,454.81 L185.43,454.64 L186.1,453.98 L186.77,453.14 L187.43,452.79 L188.1,451.94 L188.7,455.76 L189.3,457.73 L189.9,460.4 L190.67,457.16 L191.43,455.24 L192.2,451.01 L192.88,452.02 L193.56,452.37 L194.24,452.88 L194.92,453.49 L195.6,454.29 L196.3,454.43 L197,454.43 L197.7,454.8 L198.4,454.74 L199.03,456.42 L199.67,456.54 L200.3,457.91 L201.06,457.12 L201.82,454.71 L202.58,453.8 L203.34,453.04 L204.1,453.39 L204.82,452.22 L205.55,451.27 L206.28,450.49 L207,449.76 L207.76,448.68 L208.52,447.01 L209.28,446.02 L210.04,444.95 L210.8,444.04 L211.56,442.53 L212.32,441.58 L213.08,441.15 L213.84,439.51 L214.6,437.75 L215.3,438.76 L216,438.83 L216.7,439.73 L217.4,440.25 L218.12,439.14 L218.85,437.43 L219.58,437.29 L220.3,436.59 L221,435.73 L221.7,435.22 L222.4,433.46 L223.1,431.4 L223.82,433.03 L224.55,434.39 L225.28,435.52 L226,435.94 L226.7,434.01 L227.4,431.69 L228.1,429.75 L228.8,428.63 L229.53,427.67 L230.25,428.48 L230.97,427.42 L231.7,426.24 L232.4,426.34 L233.1,427 L233.8,426.78 L234.5,428.54 L235.2,425.85 L235.9,424.42 L236.6,422.4 L237.3,420.36 L238.03,420.9 L238.75,419.3 L239.47,418.67 L240.2,418.44 L240.9,418.49 L241.6,418.85 L242.3,419.05 L243,420.78 L243.72,420.9 L244.45,421.71 L245.18,421.34 L245.9,421.93 L246.6,421.58 L247.3,421.42 L248,421.21 L248.7,420.25 L249.42,420.05 L250.15,420.44 L250.88,419.73 L251.6,420.37 L252.23,416.95 L252.87,413.01 L253.5,408.52 L254.2,408.24 L254.9,408.4 L255.6,407.12 L256.3,407.27 L257.02,407.29 L257.75,406.35 L258.48,407 L259.2,407.18 L259.9,407.8 L260.6,408.66 L261.3,407.57 L262,407.36 L262.63,408.73 L263.27,408.85 L263.9,410.01 L264.62,407.75 L265.35,406.49 L266.07,404.67 L266.8,403.77 L267.44,402.35 L268.08,401.91 L268.72,399.95 L269.36,397.65 L270,395.75 L270.75,395.59 L271.5,395.46 L272.25,396.29 L273,396.31 L273.66,395.71 L274.32,393.67 L274.98,393.61 L275.64,392.65 L276.3,390.7 L277,392.29 L277.7,392.41 L278.4,392.73 L279.1,393.18 L279.73,394.54 L280.37,395.63 L281,397.34 L281.7,394.14 L282.4,392.25 L283.1,390.41 L283.8,388.3 L284.52,386.05 L285.25,385.48 L285.98,383.86 L286.7,382.11 L287.46,382.06 L288.22,382.79 L288.98,383.92 L289.74,385.27 L290.5,385.83 L291.2,385.17 L291.9,382.83 L292.6,380.47 L293.3,377.65 L294.06,377.12 L294.82,376.12 L295.58,375.26 L296.34,374.38 L297.1,374.8 L297.83,372.94 L298.55,371.64 L299.27,370.57 L300,368.37 L300.7,368.7 L301.4,368.22 L302.1,367.42 L302.8,366.67 L303.44,366.52 L304.08,367.89 L304.72,369.45 L305.36,370.48 L306,370.54" class="rd rdc"/>
<line x1="59.2" y1="319.2" x2="62.4" y2="319.2" class="tk"/>
<text x="48.9" y="323.64" class="yl" style="font-size:12.4px">300</text>
<line x1="59.2" y1="361.08" x2="62.4" y2="361.08" class="tk"/>
<text x="48.9" y="365.52" class="yl" style="font-size:12.4px">200</text>
<line x1="59.2" y1="402.97" x2="62.4" y2="402.97" class="tk"/>
<text x="48.9" y="407.41" class="yl" style="font-size:12.4px">100</text>
<line x1="59.2" y1="444.85" x2="62.4" y2="444.85" class="tk"/>
<text x="48.9" y="449.29" class="yl" style="font-size:12.4px">0</text>
<line x1="59.2" y1="486.73" x2="62.4" y2="486.73" class="tk"/>
<text x="48.9" y="491.17" class="yl" style="font-size:12.4px">-100</text>
<line x1="59.2" y1="528.62" x2="62.4" y2="528.62" class="tk"/>
<text x="48.9" y="533.06" class="yl" style="font-size:12.4px">-200</text>
<line x1="59.2" y1="570.5" x2="62.4" y2="570.5" class="tk"/>
<text x="48.9" y="574.94" class="yl" style="font-size:12.4px">-300</text>
<line x1="59.2" y1="570.5" x2="59.2" y2="567.3" class="tk"/>
<text x="59.2" y="589" class="xl" style="font-size:12.4px">0</text>
<line x1="91.28" y1="570.5" x2="91.28" y2="567.3" class="tk"/>
<text x="91.28" y="589" class="xl" style="font-size:12.4px">50</text>
<line x1="123.35" y1="570.5" x2="123.35" y2="567.3" class="tk"/>
<text x="123.35" y="589" class="xl" style="font-size:12.4px">100</text>
<line x1="155.43" y1="570.5" x2="155.43" y2="567.3" class="tk"/>
<text x="155.43" y="589" class="xl" style="font-size:12.4px">150</text>
<line x1="187.5" y1="570.5" x2="187.5" y2="567.3" class="tk"/>
<text x="187.5" y="589" class="xl" style="font-size:12.4px">200</text>
<line x1="219.58" y1="570.5" x2="219.58" y2="567.3" class="tk"/>
<text x="219.58" y="589" class="xl" style="font-size:12.4px">250</text>
<line x1="251.65" y1="570.5" x2="251.65" y2="567.3" class="tk"/>
<text x="251.65" y="589" class="xl" style="font-size:12.4px">300</text>
<line x1="283.73" y1="570.5" x2="283.73" y2="567.3" class="tk"/>
<text x="283.73" y="589" class="xl" style="font-size:12.4px">350</text>
<line x1="315.8" y1="570.5" x2="315.8" y2="567.3" class="tk"/>
<text x="315.8" y="589" class="xl" style="font-size:12.4px">400</text>
<rect x="59.2" y="319.2" width="256.6" height="251.3" class="fr"/>
<rect x="175.5" y="322.7" width="124.8" height="32.8" class="lg"/>
<line x1="179.9" y1="330.3" x2="211.4" y2="330.3" class="lbl lblc"/>
<line x1="179.9" y1="347.8" x2="211.4" y2="347.8" class="lrd lrdc"/>
<text x="214.9" y="334.8" class="lt" style="font-size:12px">Actual</text>
<text x="214.9" y="350.8" class="lt" style="font-size:12px">SARIMA model</text>
<text x="66.3" y="336.9" class="pl">c)</text>
<text x="129.9" y="602.5" class="tt" style="font-size:12px">Month (1992-2023)</text>
<text transform="translate(19.5,445.6) rotate(-90)" class="tt yt" style="font-size:12px">OHC (ZJ)</text></g>
<g><line x1="397.5" y1="369.88" x2="655.4" y2="369.88" class="gr"/>
<line x1="397.5" y1="420.26" x2="655.4" y2="420.26" class="gr"/>
<line x1="397.5" y1="470.64" x2="655.4" y2="470.64" class="gr"/>
<line x1="397.5" y1="521.02" x2="655.4" y2="521.02" class="gr"/>
<line x1="435.88" y1="319.5" x2="435.88" y2="571.4" class="gr"/>
<line x1="474.26" y1="319.5" x2="474.26" y2="571.4" class="gr"/>
<line x1="512.63" y1="319.5" x2="512.63" y2="571.4" class="gr"/>
<line x1="551.01" y1="319.5" x2="551.01" y2="571.4" class="gr"/>
<line x1="589.39" y1="319.5" x2="589.39" y2="571.4" class="gr"/>
<line x1="627.77" y1="319.5" x2="627.77" y2="571.4" class="gr"/>
<path d="M398.5,521.65 L399,524.41 L399.48,525.07 L399.97,524.52 L400.45,524.42 L400.93,522.32 L401.42,520.67 L401.9,521.28 L402.4,521.38 L402.9,521.89 L403.4,520.51 L403.9,519.62 L404.4,517.94 L404.9,517.08 L405.38,517.83 L405.87,519.11 L406.35,519.44 L406.83,518.42 L407.32,517.02 L407.8,516.89 L408.3,516.21 L408.8,516.35 L409.3,515.17 L409.8,514.27 L410.3,514.23 L410.8,515.62 L411.3,516.7 L411.8,520.67 L412.28,522.18 L412.77,522.19 L413.25,522.61 L413.73,521.64 L414.22,522.34 L414.7,524.43 L415.2,523.16 L415.7,521.54 L416.2,518.94 L416.7,515.24 L417.2,514.21 L417.7,513.97 L418.2,515.02 L418.7,514.88 L419.2,513.38 L419.7,511.76 L420.18,511.49 L420.65,511.97 L421.12,513.27 L421.6,515.32 L422.11,514.58 L422.63,512.06 L423.14,510.69 L423.66,510.52 L424.17,510.98 L424.69,510.33 L425.2,509.99 L425.66,508.93 L426.12,508.61 L426.58,509.89 L427.04,510.85 L427.5,512.8 L428,513.81 L428.5,513.63 L429,512.89 L429.5,513.09 L430,514.94 L430.5,516.6 L430.98,516.6 L431.47,515.62 L431.95,514.32 L432.43,513.59 L432.92,513.11 L433.4,514.14 L433.9,514.41 L434.4,512.63 L434.9,511.26 L435.4,508.36 L435.9,508.17 L436.4,507.4 L436.9,507.88 L437.4,508.16 L437.9,505.73 L438.4,503.52 L438.9,503.11 L439.4,502.76 L439.88,504.63 L440.37,504.91 L440.85,504.76 L441.33,504.4 L441.82,503.41 L442.3,504.67 L442.8,507.07 L443.3,510.9 L443.8,512 L444.3,513.39 L444.8,513.88 L445.3,516.33 L445.76,518.87 L446.22,519.95 L446.68,521.23 L447.14,520.4 L447.6,519.95 L448.11,518.74 L448.63,519.65 L449.14,521.03 L449.66,520.97 L450.17,519.88 L450.69,518.96 L451.2,517.97 L451.69,518.27 L452.18,518.78 L452.66,520.22 L453.15,519.64 L453.64,519.08 L454.12,517.42 L454.61,517.93 L455.1,519 L455.6,520.11 L456.1,520.64 L456.6,520.1 L457.1,519.57 L457.6,519.26 L458.1,520.42 L458.58,521 L459.07,518.9 L459.55,517.72 L460.03,515.01 L460.52,512.99 L461,512.13 L461.5,511.95 L462,511.06 L462.5,508.59 L463,505.57 L463.5,502.07 L464,500.98 L464.5,499.99 L465,499.93 L465.5,497.65 L466,493.6 L466.48,493.95 L466.97,494.8 L467.45,496.02 L467.93,498.37 L468.42,499.81 L468.9,499.62 L469.4,497.64 L469.9,497.5 L470.4,497.43 L470.9,498.66 L471.4,498.72 L471.9,498.37 L472.38,495.52 L472.85,493.77 L473.32,492.8 L473.8,492.36 L474.3,493.82 L474.8,493.12 L475.3,491.75 L475.8,490.08 L476.3,489.88 L476.8,491.33 L477.3,492.88 L477.8,493.03 L478.3,491.6 L478.8,490.38 L479.3,490.85 L479.8,492.43 L480.28,493.72 L480.77,495.72 L481.25,495.23 L481.73,495.16 L482.22,495.28 L482.7,497.15 L483.2,499.01 L483.7,500.95 L484.2,500.97 L484.7,499.29 L485.2,499.1 L485.7,500.72 L486.2,501.54 L486.7,503.12 L487.18,502.24 L487.67,499.91 L488.15,498.24 L488.63,497.54 L489.12,497.7 L489.6,498.73 L490.09,496.91 L490.57,494.72 L491.06,493.08 L491.54,490.76 L492.03,490.61 L492.51,490.32 L493,489.93 L493.52,488.86 L494.03,487.37 L494.55,487.32 L495.07,487.49 L495.58,488.88 L496.1,489.8 L496.59,490.99 L497.07,490.76 L497.56,491.52 L498.04,493.96 L498.53,496.17 L499.01,498.45 L499.5,500.4 L499.98,496.98 L500.47,494.49 L500.95,491.4 L501.43,491.24 L501.92,490.16 L502.4,488.42 L502.9,486.94 L503.4,483.38 L503.9,481.24 L504.4,480.14 L504.9,480.49 L505.4,480 L505.88,479.46 L506.37,477.95 L506.85,477.54 L507.33,476.91 L507.82,478.26 L508.3,479.7 L508.8,480.77 L509.3,479.98 L509.8,479.58 L510.3,480.19 L510.8,481.39 L511.3,483.9 L511.78,484.6 L512.27,483.94 L512.75,483.44 L513.23,484.07 L513.72,484.8 L514.2,486.48 L514.7,488.9 L515.2,488.88 L515.7,488.48 L516.2,488.68 L516.7,490.18 L517.2,491.34 L517.7,493.38 L518.2,493.68 L518.69,492.59 L519.18,491.32 L519.66,491.4 L520.15,491.86 L520.64,492.52 L521.12,492.14 L521.61,491.07 L522.1,489.15 L522.6,489.27 L523.1,489.84 L523.6,490.98 L524.1,490.51 L524.6,490.26 L525.1,488.94 L525.58,488.17 L526.07,489.33 L526.55,490.71 L527.03,491.52 L527.52,491.49 L528,490.3 L528.48,488.48 L528.95,486.49 L529.42,487.05 L529.9,487.07 L530.38,486.14 L530.85,483.83 L531.32,481.27 L531.8,480.22 L532.27,480.08 L532.75,479.66 L533.23,479.46 L533.7,478.27 L534.17,476.05 L534.65,474.79 L535.12,474.14 L535.6,473.94 L536.08,473.97 L536.55,474.14 L537.02,472.06 L537.5,471.19 L537.98,469.36 L538.45,468.87 L538.92,470.21 L539.4,469.9 L539.87,470.2 L540.33,469.2 L540.8,468.93 L541.27,469.2 L541.73,470.66 L542.2,471.23 L542.68,474.11 L543.17,474.03 L543.65,474.37 L544.13,475.54 L544.62,477.01 L545.1,479.6 L545.58,482.44 L546.05,483.54 L546.52,484.82 L547,484.7 L547.48,483.86 L547.95,483.27 L548.42,482.7 L548.9,481.13 L549.37,480.47 L549.83,477.45 L550.3,476.34 L550.77,475.6 L551.23,475.34 L551.7,476.08 L552.18,476.85 L552.67,476.31 L553.15,475.56 L553.63,476.02 L554.12,477.56 L554.6,478.95 L555.07,480.72 L555.53,480.8 L556,479.88 L556.47,479.74 L556.93,479.68 L557.4,482.03 L557.88,479.94 L558.37,478.46 L558.85,475.03 L559.33,472.2 L559.82,470.1 L560.3,468.88 L560.77,470.72 L561.25,472.11 L561.73,472.34 L562.2,472.35 L562.68,468.54 L563.15,465.83 L563.62,464.74 L564.1,462.65 L564.58,465.45 L565.05,467.06 L565.52,469.37 L566,471.26 L566.55,472.5 L567.1,474.39 L567.65,475.02 L568.2,474.46 L568.7,471.72 L569.2,470.49 L569.7,470.13 L570.2,469.76 L570.7,468.71 L571.17,466.16 L571.63,464.2 L572.1,462.47 L572.57,463.06 L573.03,463.11 L573.5,462.89 L573.98,462.88 L574.47,462.51 L574.95,461.87 L575.43,463.02 L575.92,465.08 L576.4,466.04 L576.87,464.27 L577.33,461.92 L577.8,459.21 L578.27,457.48 L578.73,456.07 L579.2,455.05 L579.68,455.86 L580.17,456.02 L580.65,455.29 L581.13,455.3 L581.62,455.16 L582.1,457.07 L582.57,457.96 L583.03,458.04 L583.5,456.81 L583.97,455.89 L584.43,454.22 L584.9,454.42 L585.38,456.45 L585.87,457.65 L586.35,457.48 L586.83,456.77 L587.32,455.73 L587.8,456.99 L588.27,455.88 L588.75,455.54 L589.23,454.2 L589.7,451.07 L590.17,448.43 L590.65,445.55 L591.12,444.7 L591.6,444.11 L592.08,444.41 L592.55,444.37 L593.02,443.79 L593.5,443.4 L593.98,443.22 L594.45,443.89 L594.92,446.29 L595.4,446.94 L595.88,445.56 L596.35,443.5 L596.83,443.44 L597.3,443.03 L597.77,443.28 L598.25,444.17 L598.73,444.11 L599.2,443.05 L599.67,439.58 L600.13,437.61 L600.6,435.97 L601.07,435.3 L601.53,434.79 L602,431.77 L602.48,431.21 L602.95,431.88 L603.42,432.46 L603.9,434.58 L604.39,434.74 L604.87,433.75 L605.36,431.62 L605.84,429.33 L606.33,427.49 L606.81,426.66 L607.3,427.45 L607.76,428.1 L608.22,429.02 L608.68,428.72 L609.14,429.14 L609.6,430.28 L610.08,430.32 L610.57,431.43 L611.05,431.13 L611.53,429.46 L612.02,427.43 L612.5,427.51 L612.97,427.7 L613.43,428.07 L613.9,428.78 L614.37,429.1 L614.83,426.88 L615.3,425.98 L615.78,424.64 L616.27,423.84 L616.75,422.82 L617.23,421.21 L617.72,417.55 L618.2,414.53 L618.67,414.55 L619.13,414.37 L619.6,414 L620.07,414.1 L620.53,413.36 L621,412.44 L621.47,409.83 L621.93,409.57 L622.4,410.05 L622.87,410.04 L623.33,409.97 L623.8,407.71 L624.28,405.87 L624.77,404.56 L625.25,405.45 L625.73,405.38 L626.22,406.8 L626.7,405.75 L627.18,403.43 L627.65,402.57 L628.12,401.16 L628.6,401.95 L629.08,402.02 L629.55,402.6 L630.02,401.39 L630.5,399.63 L630.97,397.74 L631.43,399.04 L631.9,399.67 L632.37,400.72 L632.83,400.07 L633.3,399.03 L633.77,396.25 L634.25,394.61 L634.73,392.93 L635.2,392.44 L635.68,394.15 L636.15,393.86 L636.62,393.38 L637.1,392.74 L637.58,394.54 L638.05,395.4 L638.52,397.95 L639,398.52 L639.48,395.8 L639.97,392.98 L640.45,392.08 L640.93,391.13 L641.42,391.31 L641.9,390.13 L642.38,390.17 L642.85,388.1 L643.33,386.79 L643.8,386.5 L644.27,388.07 L644.75,388.81 L645.23,388.38 L645.7,386.11 L646.17,384.07 L646.63,382.47 L647.1,382.54 L647.57,381.72 L648.03,381.59 L648.5,380.29 L648.98,378.2 L649.47,375.79 L649.95,375.49 L650.43,376.03 L650.92,377.11 L651.4,376.37 L651.92,375.97 L652.43,375.54 L652.95,376.24 L653.47,378.39 L653.98,380.38 L654.5,379.9" class="bl bld"/>
<path d="M398.5,522.07 L399,524.64 L399.48,525.37 L399.97,524.93 L400.45,524.76 L400.93,522.54 L401.42,520.21 L401.9,521.46 L402.4,521.73 L402.9,521.82 L403.4,520.89 L403.9,519.29 L404.4,518.38 L404.9,517.02 L405.38,518.04 L405.87,518.86 L406.35,519.24 L406.83,518.27 L407.32,516.84 L407.8,516.49 L408.3,516.15 L408.8,516.83 L409.3,515.33 L409.8,514.7 L410.3,514.49 L410.8,515.95 L411.3,517.2 L411.8,520.92 L412.28,521.95 L412.77,521.94 L413.25,522.52 L413.73,521.16 L414.22,522.07 L414.7,524.82 L415.2,523.58 L415.7,521.37 L416.2,519.21 L416.7,515.52 L417.2,514.6 L417.7,514.26 L418.2,515.05 L418.7,514.49 L419.2,513.7 L419.7,511.57 L420.18,511.62 L420.65,511.84 L421.12,513.31 L421.6,515.78 L422.11,514.24 L422.63,512.09 L423.14,510.84 L423.66,510.55 L424.17,511.42 L424.69,510.23 L425.2,510.4 L425.66,509.12 L426.12,509.08 L426.58,509.48 L427.04,510.56 L427.5,512.59 L428,514.22 L428.5,513.14 L429,512.65 L429.5,513.31 L430,515.43 L430.5,516.27 L430.98,516.54 L431.47,515.81 L431.95,514.51 L432.43,513.83 L432.92,513.36 L433.4,513.89 L433.9,514.17 L434.4,512.15 L434.9,511.45 L435.4,508.07 L435.9,507.93 L436.4,507.87 L436.9,508.02 L437.4,508.25 L437.9,505.89 L438.4,503.62 L438.9,503.3 L439.4,502.56 L439.88,504.2 L440.37,504.47 L440.85,504.27 L441.33,504.26 L441.82,503.06 L442.3,504.29 L442.8,507.06 L443.3,511.37 L443.8,512.18 L444.3,513.16 L444.8,514.15 L445.3,516.01 L445.76,518.47 L446.22,519.75 L446.68,521.14 L447.14,520.59 L447.6,519.9 L448.11,518.96 L448.63,519.24 L449.14,521.46 L449.66,520.82 L450.17,520.21 L450.69,518.49 L451.2,518.3 L451.69,517.99 L452.18,519.14 L452.66,520.53 L453.15,519.82 L453.64,518.85 L454.12,516.93 L454.61,517.62 L455.1,519.41 L455.6,519.77 L456.1,520.8 L456.6,520.19 L457.1,519.73 L457.6,518.94 L458.1,520.06 L458.58,520.59 L459.07,519.39 L459.55,517.61 L460.03,515.16 L460.52,513.06 L461,511.85 L461.5,511.52 L462,510.58 L462.5,508.94 L463,505.2 L463.5,502.54 L464,500.84 L464.5,500.22 L465,499.57 L465.5,497.93 L466,493.35 L466.48,493.82 L466.97,494.82 L467.45,495.63 L467.93,498.11 L468.42,500.11 L468.9,499.4 L469.4,497.52 L469.9,497.77 L470.4,497.15 L470.9,498.36 L471.4,498.44 L471.9,498.25 L472.38,495.38 L472.85,493.92 L473.32,492.77 L473.8,492.73 L474.3,493.37 L474.8,493.28 L475.3,492.09 L475.8,489.82 L476.3,489.41 L476.8,491.27 L477.3,492.5 L477.8,492.99 L478.3,491.82 L478.8,489.97 L479.3,490.47 L479.8,492.41 L480.28,493.39 L480.77,495.45 L481.25,495.17 L481.73,494.78 L482.22,494.85 L482.7,497.01 L483.2,498.98 L483.7,501.39 L484.2,501.02 L484.7,498.87 L485.2,498.82 L485.7,500.97 L486.2,501.6 L486.7,503.49 L487.18,502.7 L487.67,500.27 L488.15,497.85 L488.63,497.98 L489.12,497.73 L489.6,498.47 L490.09,496.58 L490.57,495.09 L491.06,492.8 L491.54,490.34 L492.03,490.37 L492.51,490.75 L493,489.89 L493.52,489.09 L494.03,486.94 L494.55,487.27 L495.07,487.3 L495.58,488.59 L496.1,489.96 L496.59,490.85 L497.07,490.38 L497.56,492.01 L498.04,493.94 L498.53,495.85 L499.01,497.96 L499.5,500.56 L499.98,496.99 L500.47,494.02 L500.95,491.37 L501.43,491.48 L501.92,490.2 L502.4,488.15 L502.9,486.94 L503.4,483.49 L503.9,481.39 L504.4,479.79 L504.9,480.8 L505.4,480.44 L505.88,479.7 L506.37,478.31 L506.85,477.4 L507.33,477.31 L507.82,477.94 L508.3,479.43 L508.8,480.87 L509.3,480.38 L509.8,479.16 L510.3,479.91 L510.8,480.92 L511.3,483.84 L511.78,484.24 L512.27,483.63 L512.75,483.69 L513.23,484.15 L513.72,485.24 L514.2,486.38 L514.7,489.08 L515.2,488.39 L515.7,488.93 L516.2,488.42 L516.7,490.16 L517.2,491.35 L517.7,493.83 L518.2,493.67 L518.69,493.08 L519.18,491.44 L519.66,491.12 L520.15,492.2 L520.64,492.22 L521.12,492.64 L521.61,491.02 L522.1,488.88 L522.6,489.73 L523.1,489.66 L523.6,490.89 L524.1,490.35 L524.6,490.43 L525.1,488.46 L525.58,488.04 L526.07,489 L526.55,491.04 L527.03,491.02 L527.52,491.6 L528,490.06 L528.48,488.44 L528.95,486.55 L529.42,487.27 L529.9,486.7 L530.38,485.88 L530.85,483.45 L531.32,481.73 L531.8,479.87 L532.27,479.72 L532.75,479.68 L533.23,479.54 L533.7,478.66 L534.17,475.61 L534.65,474.52 L535.12,473.81 L535.6,474.03 L536.08,473.92 L536.55,474.05 L537.02,472.45 L537.5,471.35 L537.98,469.72 L538.45,469.32 L538.92,469.98 L539.4,470.34 L539.87,470.11 L540.33,468.76 L540.8,469.35 L541.27,468.8 L541.73,470.18 L542.2,471.02 L542.68,473.9 L543.17,474.5 L543.65,474.74 L544.13,475.46 L544.62,477.04 L545.1,479.95 L545.58,482.75 L546.05,483.69 L546.52,484.84 L547,484.31 L547.48,483.6 L547.95,483.43 L548.42,482.79 L548.9,481.43 L549.37,480.87 L549.83,477.92 L550.3,476.03 L550.77,475.18 L551.23,475.74 L551.7,476.15 L552.18,476.53 L552.67,476.5 L553.15,475.31 L553.63,475.76 L554.12,477.43 L554.6,478.97 L555.07,480.9 L555.53,480.38 L556,480.13 L556.47,479.86 L556.93,479.66 L557.4,482.2 L557.88,480.24 L558.37,477.97 L558.85,475 L559.33,472.38 L559.82,470.31 L560.3,469.03 L560.77,470.4 L561.25,472.57 L561.73,472.62 L562.2,472.09 L562.68,468.47 L563.15,466.29 L563.62,464.45 L564.1,462.55 L564.58,465.91 L565.05,467.46 L565.52,469.1 L566,471.49 L566.55,472.36 L567.1,474.56 L567.65,475.29 L568.2,474.08 L568.7,471.45 L569.2,470.21 L569.7,469.89 L570.2,469.29 L570.7,468.35 L571.17,466.06 L571.63,464.12 L572.1,462.04 L572.57,463.14 L573.03,463.55 L573.5,462.97 L573.98,462.73 L574.47,462.71 L574.95,461.81 L575.43,462.7 L575.92,465.06 L576.4,465.56 L576.87,464.45 L577.33,461.58 L577.8,459.08 L578.27,457.95 L578.73,456.34 L579.2,455.39 L579.68,456 L580.17,456.15 L580.65,455.5 L581.13,455.76 L581.62,454.86 L582.1,457.34 L582.57,457.76 L583.03,457.79 L583.5,457.14 L583.97,456 L584.43,454.57 L584.9,454.79 L585.38,456.54 L585.87,457.34 L586.35,457 L586.83,456.8 L587.32,455.95 L587.8,456.76 L588.27,455.45 L588.75,455.04 L589.23,453.88 L589.7,451.26 L590.17,447.93 L590.65,445.28 L591.12,444.46 L591.6,444.33 L592.08,444.9 L592.55,443.89 L593.02,443.41 L593.5,443.83 L593.98,443.69 L594.45,443.54 L594.92,446.12 L595.4,446.96 L595.88,445.38 L596.35,443.42 L596.83,443.41 L597.3,442.79 L597.77,442.83 L598.25,443.76 L598.73,443.78 L599.2,442.64 L599.67,439.7 L600.13,437.81 L600.6,435.74 L601.07,435.59 L601.53,435.01 L602,431.61 L602.48,431.2 L602.95,431.56 L603.42,432.89 L603.9,434.64 L604.39,434.29 L604.87,433.41 L605.36,431.81 L605.84,429.22 L606.33,427.71 L606.81,426.39 L607.3,427.74 L607.76,428.41 L608.22,428.61 L608.68,428.81 L609.14,428.83 L609.6,430.48 L610.08,430.63 L610.57,431.72 L611.05,430.86 L611.53,429.05 L612.02,427.59 L612.5,427.58 L612.97,427.34 L613.43,427.77 L613.9,428.86 L614.37,428.7 L614.83,427.01 L615.3,425.73 L615.78,424.4 L616.27,423.77 L616.75,422.85 L617.23,421.43 L617.72,417.08 L618.2,414.76 L618.67,414.27 L619.13,414.16 L619.6,414.14 L620.07,414.29 L620.53,413.48 L621,412.84 L621.47,409.54 L621.93,409.38 L622.4,410.21 L622.87,409.81 L623.33,409.63 L623.8,407.43 L624.28,406.14 L624.77,404.89 L625.25,405.66 L625.73,405.84 L626.22,407.09 L626.7,405.56 L627.18,403.24 L627.65,402.79 L628.12,400.71 L628.6,402.06 L629.08,401.61 L629.55,402.15 L630.02,401.4 L630.5,399.28 L630.97,398.17 L631.43,399.42 L631.9,399.63 L632.37,400.42 L632.83,399.69 L633.3,399.04 L633.77,396.27 L634.25,394.48 L634.73,393.15 L635.2,392.47 L635.68,394.43 L636.15,393.46 L636.62,392.95 L637.1,392.63 L637.58,394.52 L638.05,395.16 L638.52,398.12 L639,398.24 L639.48,395.62 L639.97,392.96 L640.45,392.3 L640.93,391.4 L641.42,391.18 L641.9,390.07 L642.38,390.6 L642.85,388.54 L643.33,386.91 L643.8,386.11 L644.27,388.02 L644.75,388.94 L645.23,388.16 L645.7,385.65 L646.17,384.55 L646.63,382.88 L647.1,382.17 L647.57,381.68 L648.03,381.71 L648.5,380.09 L648.98,377.77 L649.47,376.05 L649.95,375.76 L650.43,375.97 L650.92,376.7 L651.4,376.26 L651.92,375.56 L652.43,376.01 L652.95,375.79 L653.47,378.18 L653.98,380.65 L654.5,379.54" class="rd rdd"/>
<line x1="397.5" y1="319.5" x2="400.7" y2="319.5" class="tk"/>
<text x="387.6" y="323.94" class="yl" style="font-size:12.4px">100</text>
<line x1="397.5" y1="369.88" x2="400.7" y2="369.88" class="tk"/>
<text x="387.6" y="374.32" class="yl" style="font-size:12.4px">50</text>
<line x1="397.5" y1="420.26" x2="400.7" y2="420.26" class="tk"/>
<text x="387.6" y="424.7" class="yl" style="font-size:12.4px">0</text>
<line x1="397.5" y1="470.64" x2="400.7" y2="470.64" class="tk"/>
<text x="387.6" y="475.08" class="yl" style="font-size:12.4px">-50</text>
<line x1="397.5" y1="521.02" x2="400.7" y2="521.02" class="tk"/>
<text x="387.6" y="525.46" class="yl" style="font-size:12.4px">-100</text>
<line x1="397.5" y1="571.4" x2="400.7" y2="571.4" class="tk"/>
<text x="387.6" y="575.84" class="yl" style="font-size:12.4px">-150</text>
<line x1="397.5" y1="571.4" x2="397.5" y2="568.2" class="tk"/>
<text x="397.5" y="590" class="xl" style="font-size:12.4px">0</text>
<line x1="435.88" y1="571.4" x2="435.88" y2="568.2" class="tk"/>
<text x="435.88" y="590" class="xl" style="font-size:12.4px">150</text>
<line x1="474.26" y1="571.4" x2="474.26" y2="568.2" class="tk"/>
<text x="474.26" y="590" class="xl" style="font-size:12.4px">300</text>
<line x1="512.63" y1="571.4" x2="512.63" y2="568.2" class="tk"/>
<text x="512.63" y="590" class="xl" style="font-size:12.4px">450</text>
<line x1="551.01" y1="571.4" x2="551.01" y2="568.2" class="tk"/>
<text x="551.01" y="590" class="xl" style="font-size:12.4px">600</text>
<line x1="589.39" y1="571.4" x2="589.39" y2="568.2" class="tk"/>
<text x="589.39" y="590" class="xl" style="font-size:12.4px">750</text>
<line x1="627.77" y1="571.4" x2="627.77" y2="568.2" class="tk"/>
<text x="627.77" y="590" class="xl" style="font-size:12.4px">900</text>
<rect x="397.5" y="319.5" width="257.9" height="251.9" class="fr"/>
<rect x="517" y="322.7" width="131.4" height="32.8" class="lg"/>
<line x1="525.8" y1="330.8" x2="556.5" y2="330.8" class="lbl lbld"/>
<line x1="525.8" y1="347.8" x2="556.5" y2="347.8" class="lrd lrdd"/>
<text x="559.7" y="334.8" class="lt" style="font-size:12px">Actual</text>
<text x="559.7" y="350.8" class="lt" style="font-size:12px">SARIMA model</text>
<text x="404.1" y="336.9" class="pl">d)</text>
<text x="468.4" y="603.5" class="tt" style="font-size:12px">Month (1940-2023)</text>
<text transform="translate(357.6,446) rotate(-90)" class="tt yt" style="font-size:12px">OHC (ZJ)</text></g>
<g><line x1="402.2" y1="713.75" x2="671.7" y2="713.75" class="gr"/>
<line x1="402.2" y1="779.5" x2="671.7" y2="779.5" class="gr"/>
<line x1="402.2" y1="845.25" x2="671.7" y2="845.25" class="gr"/>
<line x1="435.89" y1="648" x2="435.89" y2="911" class="gr"/>
<line x1="469.57" y1="648" x2="469.57" y2="911" class="gr"/>
<line x1="503.26" y1="648" x2="503.26" y2="911" class="gr"/>
<line x1="536.95" y1="648" x2="536.95" y2="911" class="gr"/>
<line x1="570.64" y1="648" x2="570.64" y2="911" class="gr"/>
<line x1="604.33" y1="648" x2="604.33" y2="911" class="gr"/>
<line x1="638.01" y1="648" x2="638.01" y2="911" class="gr"/>
<path d="M403,830.87 L403.63,829.35 L404.27,828.09 L404.9,826.76 L405.65,827.72 L406.4,828.79 L407.15,829.88 L407.9,830.18 L408.57,830.25 L409.23,830.32 L409.9,830.77 L410.62,830.51 L411.35,829.58 L412.07,829.46 L412.8,829.57 L413.55,831.81 L414.3,833.69 L415.05,834.98 L415.8,836.54 L416.43,836.48 L417.07,836.47 L417.7,836.89 L418.45,836.21 L419.2,835.72 L419.95,835.11 L420.7,834.99 L421.35,834.41 L422,832.67 L422.65,831.64 L423.3,829.65 L424.07,830.73 L424.83,831.78 L425.6,833.07 L426.35,832.95 L427.1,832.33 L427.85,832.92 L428.6,832.92 L429.23,831.65 L429.87,830.68 L430.5,828.9 L431.2,825.2 L431.9,821.49 L432.55,820.74 L433.2,819.79 L433.85,818.77 L434.5,817.81 L435.15,818.54 L435.8,818.96 L436.45,819.77 L437.1,820.46 L437.75,820.64 L438.4,821.3 L439.15,821.94 L439.9,821.97 L440.65,822.22 L441.4,822.44 L442.2,824.01 L443,825.97 L443.8,836.06 L444.43,837.55 L445.05,839.41 L445.68,840.49 L446.3,841.84 L447.05,842.24 L447.8,842.09 L448.55,841.5 L449.3,841.59 L450.07,840.44 L450.83,839.77 L451.6,839.16 L452.25,839.83 L452.9,840.61 L453.55,840.99 L454.2,841.8 L454.95,841.22 L455.7,840.75 L456.45,839.34 L457.2,838.51 L457.83,839.31 L458.47,840.69 L459.1,841.73 L459.85,841.31 L460.6,840.83 L461.35,840.41 L462.1,839.41 L462.83,840.56 L463.55,840.81 L464.27,840.86 L465,840.8 L465.75,838.93 L466.5,838.12 L467.25,836.94 L468,836.21 L468.75,837.63 L469.5,839.44 L470.25,840.85 L471,842.02 L471.7,842.25 L472.4,842.7 L473.1,842.9 L473.8,843.09 L474.5,843.67 L475.2,840.48 L475.9,838.21 L476.53,834.32 L477.17,830.78 L477.8,827.3 L478.55,828.07 L479.3,827.8 L480.05,827.7 L480.8,827.16 L481.55,826.11 L482.3,825.01 L483.05,823.71 L483.8,823.32 L484.52,823.38 L485.25,823.17 L485.98,823.44 L486.7,823.18 L487.37,822.31 L488.03,821.77 L488.7,820.51 L489.37,819.06 L490.03,818.21 L490.7,817.38 L491.43,816.4 L492.15,815.89 L492.88,815.6 L493.6,815.71 L494.35,815.06 L495.1,814.02 L495.85,813.02 L496.6,811.63 L497.33,810.72 L498.05,809.31 L498.77,807.89 L499.5,807.56 L500.25,806.77 L501,807.1 L501.75,807.07 L502.5,807.21 L503.15,806.76 L503.8,806.03 L504.45,805.53 L505.1,804.78 L505.75,803.78 L506.4,802.61 L507.15,801.75 L507.9,801.62 L508.65,801.51 L509.4,801.2 L510.05,801.75 L510.7,801.86 L511.35,801.36 L512,800.91 L512.65,800.46 L513.3,799.8 L514.05,797.07 L514.8,794.98 L515.55,793.12 L516.3,791.82 L517.02,792.68 L517.75,794.19 L518.48,795.42 L519.2,796.56 L519.95,797.72 L520.7,799.36 L521.45,800.33 L522.2,800.98 L522.85,800.41 L523.5,799.55 L524.15,799.73 L524.8,799.49 L525.45,799.74 L526.1,799.97 L526.75,798.69 L527.4,797.87 L528.05,796.03 L528.7,794.27 L529.35,792.74 L530,791.1 L530.7,790.28 L531.4,789.7 L532.1,789.1 L532.8,789.29 L533.5,789.2 L534.2,789.14 L534.92,790.4 L535.63,791.24 L536.35,791.45 L537.07,791.72 L537.78,791.53 L538.5,791.54 L539.2,790.73 L539.9,790.14 L540.6,789.76 L541.3,789.42 L542,789.36 L542.7,789.52 L543.36,789.53 L544.03,789.09 L544.69,788.07 L545.35,787.16 L546.01,786.29 L546.67,785.08 L547.34,784.48 L548,784.04 L548.7,783.8 L549.4,784.45 L550.1,785.06 L550.8,785.57 L551.5,785.86 L552.2,785.91 L552.92,784.52 L553.63,783.51 L554.35,782.13 L555.07,780.26 L555.78,779.67 L556.5,778.54 L557.16,778.49 L557.83,778.8 L558.49,779.61 L559.15,779.82 L559.81,779.58 L560.47,779.6 L561.14,779.29 L561.8,778.92 L562.5,777.29 L563.2,776.4 L563.9,775.16 L564.6,774.49 L565.3,774.09 L566,774.04 L566.7,774.34 L567.4,774.21 L568.1,773.95 L568.8,773.51 L569.5,772.71 L570.2,771.91 L570.84,770.44 L571.48,769.14 L572.12,767.73 L572.76,766.94 L573.4,766.16 L574.06,766.81 L574.73,766.89 L575.39,767.43 L576.05,767.22 L576.71,766.87 L577.38,766.68 L578.04,765.82 L578.7,765.19 L579.4,763.98 L580.1,763.43 L580.8,762.95 L581.5,762.24 L582.2,762.01 L582.9,761.88 L583.62,761.9 L584.33,761.91 L585.05,761.25 L585.77,760.35 L586.48,759.89 L587.2,758.85 L587.98,757.09 L588.75,756.49 L589.52,755.66 L590.3,754.91 L591.02,755.8 L591.73,756.56 L592.45,756.59 L593.17,756.65 L593.88,756.35 L594.6,756.15 L595.38,754.86 L596.15,753.78 L596.93,753.12 L597.7,752.18 L598.42,752.48 L599.13,752.96 L599.85,752.98 L600.57,752.65 L601.28,752.2 L602,751.24 L602.7,750.73 L603.4,749.64 L604.1,748.87 L604.8,748.32 L605.5,748.15 L606.2,748.71 L606.9,749 L607.6,748.83 L608.3,749.1 L609,749.02 L609.7,748.57 L610.4,747.84 L611.04,746.61 L611.68,744.79 L612.32,743.59 L612.96,742.74 L613.6,741.71 L614.24,742.65 L614.88,743.69 L615.52,744.82 L616.16,745.92 L616.8,746.77 L617.5,742.76 L618.2,738.9 L618.9,734.85 L619.6,732.79 L620.3,731.26 L621,729.43 L621.72,729.28 L622.43,729.56 L623.15,730.18 L623.87,730.05 L624.58,730.41 L625.3,729.76 L626,728.85 L626.7,727.58 L627.4,726.8 L628.1,725.28 L628.8,724.44 L629.5,723.74 L630.2,723.97 L630.9,724.51 L631.6,724.77 L632.3,725.02 L633,724.92 L633.7,724.27 L634.42,723.38 L635.13,721.64 L635.85,720.93 L636.57,719.62 L637.28,718.74 L638,718.63 L638.7,718.97 L639.4,719.04 L640.1,719.14 L640.8,719.67 L641.5,719.38 L642.2,718.79 L642.9,717.75 L643.6,715.87 L644.3,714.68 L645,713.75 L645.7,713 L646.4,712.98 L647.06,713.8 L647.73,714.36 L648.39,715.15 L649.05,715.7 L649.71,716.25 L650.38,716.34 L651.04,716.42 L651.7,715.93 L652.34,714.35 L652.98,712.26 L653.62,710.7 L654.26,709.32 L654.9,708.18 L655.6,708.46 L656.3,708.23 L657,707.6 L657.75,702.98 L658.5,698.38 L659.35,699.34 L660.2,700.46 L661.2,704.3" class="bl ble"/>
<path d="M403,831.11 L403.63,828.91 L404.27,828.12 L404.9,826.94 L405.65,827.26 L406.4,828.73 L407.15,830.17 L407.9,830.25 L408.57,830.2 L409.23,830.7 L409.9,830.88 L410.62,830.35 L411.35,829.48 L412.07,829.9 L412.8,829.93 L413.55,832.23 L414.3,833.75 L415.05,834.62 L415.8,836.22 L416.43,836.37 L417.07,836.66 L417.7,836.39 L418.45,836.51 L419.2,836 L419.95,835.12 L420.7,834.5 L421.35,834.71 L422,832.59 L422.65,831.81 L423.3,829.72 L424.07,830.96 L424.83,831.69 L425.6,833.53 L426.35,833.4 L427.1,832.76 L427.85,833.04 L428.6,832.73 L429.23,831.53 L429.87,830.44 L430.5,829.31 L431.2,825.5 L431.9,821.78 L432.55,821.07 L433.2,820.28 L433.85,818.96 L434.5,817.62 L435.15,818.8 L435.8,818.72 L436.45,819.88 L437.1,820.12 L437.75,821 L438.4,821.29 L439.15,821.71 L439.9,822.39 L440.65,821.8 L441.4,822.87 L442.2,824.27 L443,825.62 L443.8,836.32 L444.43,837.62 L445.05,839.82 L445.68,840.58 L446.3,841.77 L447.05,842.67 L447.8,841.68 L448.55,841.78 L449.3,841.2 L450.07,840.22 L450.83,839.38 L451.6,839.54 L452.25,839.78 L452.9,840.84 L453.55,840.75 L454.2,842.03 L454.95,841.37 L455.7,840.35 L456.45,839.33 L457.2,838.73 L457.83,839.02 L458.47,840.85 L459.1,841.51 L459.85,841.18 L460.6,841.25 L461.35,840.86 L462.1,839.91 L462.83,840.49 L463.55,840.88 L464.27,841.17 L465,841.06 L465.75,838.89 L466.5,838.49 L467.25,836.84 L468,836.66 L468.75,837.61 L469.5,839.06 L470.25,841.09 L471,841.67 L471.7,842.43 L472.4,842.26 L473.1,843.39 L473.8,843.13 L474.5,843.91 L475.2,840.11 L475.9,838.34 L476.53,834.2 L477.17,830.52 L477.8,827.61 L478.55,827.6 L479.3,827.78 L480.05,827.28 L480.8,827.51 L481.55,826.5 L482.3,824.55 L483.05,823.68 L483.8,823.29 L484.52,823.6 L485.25,823.4 L485.98,823.29 L486.7,823.61 L487.37,821.99 L488.03,821.41 L488.7,820.83 L489.37,818.68 L490.03,817.89 L490.7,817.38 L491.43,816.24 L492.15,815.56 L492.88,816.03 L493.6,815.68 L494.35,815.35 L495.1,813.77 L495.85,813.43 L496.6,811.35 L497.33,811.13 L498.05,809.42 L498.77,808.36 L499.5,807.83 L500.25,806.9 L501,807.13 L501.75,807.43 L502.5,807.16 L503.15,806.36 L503.8,806.45 L504.45,805.83 L505.1,804.96 L505.75,804.02 L506.4,802.34 L507.15,801.72 L507.9,801.94 L508.65,801.97 L509.4,801.63 L510.05,801.41 L510.7,802.04 L511.35,801.41 L512,800.81 L512.65,800.13 L513.3,799.44 L514.05,797.04 L514.8,794.97 L515.55,792.89 L516.3,791.69 L517.02,792.73 L517.75,794.45 L518.48,795.5 L519.2,796.22 L519.95,798.1 L520.7,799.23 L521.45,800.79 L522.2,801.46 L522.85,800.05 L523.5,799.63 L524.15,800.2 L524.8,799.38 L525.45,799.79 L526.1,799.79 L526.75,798.22 L527.4,797.57 L528.05,795.65 L528.7,794.06 L529.35,792.87 L530,791.16 L530.7,790.73 L531.4,789.89 L532.1,788.96 L532.8,789.74 L533.5,789.34 L534.2,789.18 L534.92,790.77 L535.63,791.41 L536.35,791.31 L537.07,791.83 L537.78,791.33 L538.5,792.01 L539.2,790.47 L539.9,790.62 L540.6,789.33 L541.3,788.93 L542,789.42 L542.7,789.23 L543.36,789.54 L544.03,788.71 L544.69,788.41 L545.35,787.33 L546.01,786.47 L546.67,785.51 L547.34,784.98 L548,784.22 L548.7,784.02 L549.4,783.95 L550.1,784.61 L550.8,785.5 L551.5,786.33 L552.2,785.72 L552.92,784.59 L553.63,783.02 L554.35,782.04 L555.07,780.66 L555.78,779.76 L556.5,778.86 L557.16,778 L557.83,778.51 L558.49,779.29 L559.15,780.15 L559.81,779.18 L560.47,780.03 L561.14,779.06 L561.8,779.3 L562.5,777.3 L563.2,776.22 L563.9,775.63 L564.6,774.4 L565.3,774.29 L566,773.61 L566.7,774.67 L567.4,774.69 L568.1,773.56 L568.8,773.76 L569.5,772.48 L570.2,771.55 L570.84,770.31 L571.48,769.3 L572.12,768.19 L572.76,767.43 L573.4,766.65 L574.06,766.93 L574.73,767.04 L575.39,767.09 L576.05,767.45 L576.71,766.92 L577.38,766.54 L578.04,766.22 L578.7,764.94 L579.4,763.63 L580.1,763.09 L580.8,762.6 L581.5,762.33 L582.2,762.31 L582.9,761.54 L583.62,761.9 L584.33,761.99 L585.05,761.31 L585.77,760.27 L586.48,759.94 L587.2,758.37 L587.98,756.64 L588.75,756.42 L589.52,755.4 L590.3,755.16 L591.02,755.54 L591.73,756.89 L592.45,756.33 L593.17,756.24 L593.88,756.32 L594.6,756.03 L595.38,754.7 L596.15,754.05 L596.93,752.84 L597.7,752.35 L598.42,752.81 L599.13,752.91 L599.85,752.98 L600.57,753.08 L601.28,752.31 L602,750.92 L602.7,750.3 L603.4,749.22 L604.1,748.7 L604.8,747.91 L605.5,748.3 L606.2,748.63 L606.9,748.81 L607.6,748.84 L608.3,749.54 L609,748.76 L609.7,748.23 L610.4,747.64 L611.04,746.43 L611.68,745.2 L612.32,743.79 L612.96,742.66 L613.6,741.38 L614.24,742.2 L614.88,743.31 L615.52,745.17 L616.16,746.07 L616.8,746.43 L617.5,742.89 L618.2,738.45 L618.9,734.85 L619.6,732.63 L620.3,730.86 L621,729.68 L621.72,729.5 L622.43,729.57 L623.15,729.85 L623.87,730.22 L624.58,730.34 L625.3,729.92 L626,728.44 L626.7,727.98 L627.4,726.3 L628.1,725 L628.8,724.34 L629.5,723.44 L630.2,723.55 L630.9,724.7 L631.6,725.27 L632.3,724.85 L633,724.68 L633.7,724.44 L634.42,723.1 L635.13,721.54 L635.85,721.12 L636.57,719.55 L637.28,718.39 L638,718.2 L638.7,719.02 L639.4,719.53 L640.1,719.56 L640.8,719.27 L641.5,719.38 L642.2,718.78 L642.9,717.44 L643.6,716.04 L644.3,714.67 L645,714.05 L645.7,712.79 L646.4,713.42 L647.06,714.11 L647.73,714.33 L648.39,714.79 L649.05,715.69 L649.71,715.88 L650.38,716.53 L651.04,716.62 L651.7,716.01 L652.34,714.82 L652.98,711.8 L653.62,710.92 L654.26,709.63 L654.9,707.79 L655.6,708.28 L656.3,707.78 L657,707.69 L657.75,703.21 L658.5,698.23 L659.35,699.54 L660.2,700.33 L661.2,704.51" class="rd rde"/>
<line x1="402.2" y1="648" x2="405.4" y2="648" class="tk"/>
<text x="392" y="652.58" class="yl" style="font-size:12.8px">50</text>
<line x1="402.2" y1="713.75" x2="405.4" y2="713.75" class="tk"/>
<text x="392" y="718.33" class="yl" style="font-size:12.8px">25</text>
<line x1="402.2" y1="779.5" x2="405.4" y2="779.5" class="tk"/>
<text x="392" y="784.08" class="yl" style="font-size:12.8px">0</text>
<line x1="402.2" y1="845.25" x2="405.4" y2="845.25" class="tk"/>
<text x="392" y="849.83" class="yl" style="font-size:12.8px">-25</text>
<line x1="402.2" y1="911" x2="405.4" y2="911" class="tk"/>
<text x="392" y="915.58" class="yl" style="font-size:12.8px">-50</text>
<line x1="402.2" y1="911" x2="402.2" y2="907.8" class="tk"/>
<text x="402.2" y="930.4" class="xl" style="font-size:12.8px">0</text>
<line x1="435.89" y1="911" x2="435.89" y2="907.8" class="tk"/>
<text x="435.89" y="930.4" class="xl" style="font-size:12.8px">50</text>
<line x1="469.57" y1="911" x2="469.57" y2="907.8" class="tk"/>
<text x="469.57" y="930.4" class="xl" style="font-size:12.8px">100</text>
<line x1="503.26" y1="911" x2="503.26" y2="907.8" class="tk"/>
<text x="503.26" y="930.4" class="xl" style="font-size:12.8px">150</text>
<line x1="536.95" y1="911" x2="536.95" y2="907.8" class="tk"/>
<text x="536.95" y="930.4" class="xl" style="font-size:12.8px">200</text>
<line x1="570.64" y1="911" x2="570.64" y2="907.8" class="tk"/>
<text x="570.64" y="930.4" class="xl" style="font-size:12.8px">250</text>
<line x1="604.33" y1="911" x2="604.33" y2="907.8" class="tk"/>
<text x="604.33" y="930.4" class="xl" style="font-size:12.8px">300</text>
<line x1="638.01" y1="911" x2="638.01" y2="907.8" class="tk"/>
<text x="638.01" y="930.4" class="xl" style="font-size:12.8px">350</text>
<line x1="671.7" y1="911" x2="671.7" y2="907.8" class="tk"/>
<text x="671.7" y="930.4" class="xl" style="font-size:12.8px">400</text>
<rect x="402.2" y="648" width="269.5" height="263" class="fr"/>
<rect x="529.2" y="651.6" width="136.4" height="33.9" class="lg"/>
<line x1="538" y1="659.9" x2="569.9" y2="659.9" class="lbl lble"/>
<line x1="538" y1="677.4" x2="569.9" y2="677.4" class="lrd lrde"/>
<text x="573.6" y="663.7" class="lt" style="font-size:12.5px">Actual</text>
<text x="573.6" y="679.7" class="lt" style="font-size:12.5px">SARIMA model</text>
<text x="409.8" y="666.8" class="pl pln">e)</text>
<text x="476.6" y="945.9" class="tt" style="font-size:12.5px">Month (1992-2023)</text>
<text transform="translate(367.6,780) rotate(-90)" class="tt yt" style="font-size:12.5px">OHC (ZJ)</text></g>
</svg></body></html>
